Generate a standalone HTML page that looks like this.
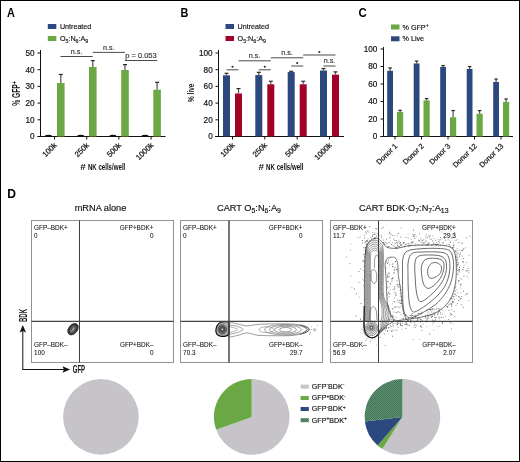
<!DOCTYPE html>
<html><head><meta charset="utf-8"><title>Figure</title>
<style>
html,body{margin:0;padding:0;background:#fff;width:520px;height:462px;overflow:hidden;}
svg{display:block;will-change:transform;}
text{font-family:"Liberation Sans",sans-serif;}
</style></head><body>
<svg width="520" height="462" viewBox="0 0 520 462">
<rect x="0.5" y="0.5" width="519" height="461" fill="#fff" stroke="#000" stroke-width="1"/>
<text x="0" y="0" transform="translate(7.0 16.8) scale(0.9 1)" font-size="12.1" text-anchor="start" font-weight="bold" fill="#000" >A</text>
<text x="0" y="0" transform="translate(180.5 16.6) scale(0.9 1)" font-size="12.1" text-anchor="start" font-weight="bold" fill="#000" >B</text>
<text x="0" y="0" transform="translate(358.6 16.6) scale(0.95 1)" font-size="12.1" text-anchor="start" font-weight="bold" fill="#000" >C</text>
<text x="7.2" y="197.6" font-size="12.1" text-anchor="start" font-weight="bold" fill="#000" >D</text>
<rect x="47.8" y="24" width="8.5" height="5" fill="#2b487f"/>
<text x="0" y="0" transform="translate(59.9 29) scale(0.93 1)" font-size="7.7" text-anchor="start" font-weight="normal" fill="#111"  stroke="#111" stroke-width="0.15">Untreated</text>
<rect x="47.8" y="36" width="8.5" height="5" fill="#6aa843"/>
<text x="0" y="0" transform="translate(59.9 41) scale(0.93 1)" font-size="7.7" text-anchor="start" font-weight="normal" fill="#111"  stroke="#111" stroke-width="0.15">O<tspan font-size="5.70" dy="1.7">5</tspan><tspan dy="-1.7">:N</tspan><tspan font-size="5.70" dy="1.7">6</tspan><tspan dy="-1.7">:A</tspan><tspan font-size="5.70" dy="1.7">9</tspan></text>
<line x1="40.5" y1="50" x2="40.5" y2="137.0" stroke="#111" stroke-width="1"/>
<line x1="37.5" y1="136.5" x2="40.5" y2="136.5" stroke="#111" stroke-width="1"/>
<text x="34.5" y="139.4" font-size="8.2" text-anchor="end" font-weight="normal" fill="#111" stroke="#111" stroke-width="0.18">0</text>
<line x1="37.5" y1="119.8" x2="40.5" y2="119.8" stroke="#111" stroke-width="1"/>
<text x="34.5" y="122.7" font-size="8.2" text-anchor="end" font-weight="normal" fill="#111" stroke="#111" stroke-width="0.18">10</text>
<line x1="37.5" y1="103.1" x2="40.5" y2="103.1" stroke="#111" stroke-width="1"/>
<text x="34.5" y="106.0" font-size="8.2" text-anchor="end" font-weight="normal" fill="#111" stroke="#111" stroke-width="0.18">20</text>
<line x1="37.5" y1="86.4" x2="40.5" y2="86.4" stroke="#111" stroke-width="1"/>
<text x="34.5" y="89.30000000000001" font-size="8.2" text-anchor="end" font-weight="normal" fill="#111" stroke="#111" stroke-width="0.18">30</text>
<line x1="37.5" y1="69.7" x2="40.5" y2="69.7" stroke="#111" stroke-width="1"/>
<text x="34.5" y="72.60000000000001" font-size="8.2" text-anchor="end" font-weight="normal" fill="#111" stroke="#111" stroke-width="0.18">40</text>
<line x1="37.5" y1="53.0" x2="40.5" y2="53.0" stroke="#111" stroke-width="1"/>
<text x="34.5" y="55.9" font-size="8.2" text-anchor="end" font-weight="normal" fill="#111" stroke="#111" stroke-width="0.18">50</text>
<line x1="37.5" y1="136.5" x2="165.5" y2="136.5" stroke="#111" stroke-width="1"/>
<line x1="54.5" y1="136.5" x2="54.5" y2="139.5" stroke="#111" stroke-width="1"/>
<line x1="86.7" y1="136.5" x2="86.7" y2="139.5" stroke="#111" stroke-width="1"/>
<line x1="118.9" y1="136.5" x2="118.9" y2="139.5" stroke="#111" stroke-width="1"/>
<line x1="151.1" y1="136.5" x2="151.1" y2="139.5" stroke="#111" stroke-width="1"/>
<ellipse cx="48.50" cy="135.90" rx="3.3" ry="1.1" fill="#111"/>
<rect x="57.0" y="83.06" width="7.6" height="53.44" fill="#6aa843"/>
<line x1="60.8" y1="74.376" x2="60.8" y2="83.06" stroke="#555" stroke-width="1.25"/>
<line x1="58.8" y1="74.476" x2="62.8" y2="74.476" stroke="#2a2a2a" stroke-width="1.2"/>
<ellipse cx="80.70" cy="135.90" rx="3.3" ry="1.1" fill="#111"/>
<rect x="89.0" y="67.028" width="7.6" height="69.472" fill="#6aa843"/>
<line x1="92.8" y1="60.515" x2="92.8" y2="67.028" stroke="#555" stroke-width="1.25"/>
<line x1="90.8" y1="60.615" x2="94.8" y2="60.615" stroke="#2a2a2a" stroke-width="1.2"/>
<ellipse cx="112.90" cy="135.90" rx="3.3" ry="1.1" fill="#111"/>
<rect x="121.2" y="70.034" width="7.6" height="66.466" fill="#6aa843"/>
<line x1="125.0" y1="64.523" x2="125.0" y2="70.034" stroke="#555" stroke-width="1.25"/>
<line x1="123.0" y1="64.62299999999999" x2="127.0" y2="64.62299999999999" stroke="#2a2a2a" stroke-width="1.2"/>
<ellipse cx="145.10" cy="135.90" rx="3.3" ry="1.1" fill="#111"/>
<rect x="153.3" y="89.74000000000001" width="7.6" height="46.76" fill="#6aa843"/>
<line x1="157.10000000000002" y1="82.225" x2="157.10000000000002" y2="89.74000000000001" stroke="#555" stroke-width="1.25"/>
<line x1="155.10000000000002" y1="82.32499999999999" x2="159.10000000000002" y2="82.32499999999999" stroke="#2a2a2a" stroke-width="1.2"/>
<line x1="60.5" y1="56.5" x2="92.7" y2="56.5" stroke="#4a4a4a" stroke-width="1"/>
<text x="76.6" y="53.6" font-size="7.2" text-anchor="middle" font-weight="normal" fill="#333"  stroke="#333" stroke-width="0.15">n.s.</text>
<line x1="92.7" y1="52.4" x2="125" y2="52.4" stroke="#4a4a4a" stroke-width="1"/>
<text x="108.9" y="49.5" font-size="7.2" text-anchor="middle" font-weight="normal" fill="#333"  stroke="#333" stroke-width="0.15">n.s.</text>
<line x1="125" y1="60.5" x2="157.3" y2="60.5" stroke="#4a4a4a" stroke-width="1"/>
<text x="125.2" y="57.6" font-size="7.5" text-anchor="start" font-weight="normal" fill="#333"  stroke="#333" stroke-width="0.15">p = 0.053</text>
<text x="57.3" y="145.8" font-size="7.7" text-anchor="end" fill="#111" stroke="#111" stroke-width="0.22" transform="rotate(-45 57.3 145.8)">100k</text>
<text x="89.5" y="145.8" font-size="7.7" text-anchor="end" fill="#111" stroke="#111" stroke-width="0.22" transform="rotate(-45 89.5 145.8)">250k</text>
<text x="121.7" y="145.8" font-size="7.7" text-anchor="end" fill="#111" stroke="#111" stroke-width="0.22" transform="rotate(-45 121.7 145.8)">500k</text>
<text x="153.9" y="145.8" font-size="7.7" text-anchor="end" fill="#111" stroke="#111" stroke-width="0.22" transform="rotate(-45 153.9 145.8)">1000k</text>
<text x="0" y="0" font-size="9" font-weight="bold" fill="#111" transform="translate(80.2,170.3) scale(1.1,1)">#</text>
<text x="0" y="0" font-size="9" font-weight="bold" fill="#111" transform="translate(87.9,170.3) scale(0.68,1)">NK cells/well</text>
<text x="0" y="0" font-size="10" font-weight="bold" fill="#111" transform="translate(20.3,93.4) rotate(-90) scale(0.67,1)" text-anchor="middle">% GFP<tspan font-size="8" dy="-3.2">+</tspan></text>
<rect x="225.5" y="24" width="8.5" height="5" fill="#2b487f"/>
<text x="0" y="0" transform="translate(237.6 29) scale(0.93 1)" font-size="7.7" text-anchor="start" font-weight="normal" fill="#111"  stroke="#111" stroke-width="0.15">Untreated</text>
<rect x="225.5" y="36" width="8.5" height="5" fill="#a30228"/>
<text x="0" y="0" transform="translate(237.6 41) scale(0.93 1)" font-size="7.7" text-anchor="start" font-weight="normal" fill="#111"  stroke="#111" stroke-width="0.15">O<tspan font-size="5.70" dy="1.7">5</tspan><tspan dy="-1.7">:N</tspan><tspan font-size="5.70" dy="1.7">6</tspan><tspan dy="-1.7">:A</tspan><tspan font-size="5.70" dy="1.7">9</tspan></text>
<line x1="218.5" y1="50" x2="218.5" y2="137.0" stroke="#111" stroke-width="1"/>
<line x1="215.5" y1="136.5" x2="218.5" y2="136.5" stroke="#111" stroke-width="1"/>
<text x="212.7" y="139.4" font-size="8.2" text-anchor="end" font-weight="normal" fill="#111" stroke="#111" stroke-width="0.18">0</text>
<line x1="215.5" y1="119.8" x2="218.5" y2="119.8" stroke="#111" stroke-width="1"/>
<text x="212.7" y="122.7" font-size="8.2" text-anchor="end" font-weight="normal" fill="#111" stroke="#111" stroke-width="0.18">20</text>
<line x1="215.5" y1="103.1" x2="218.5" y2="103.1" stroke="#111" stroke-width="1"/>
<text x="212.7" y="106.0" font-size="8.2" text-anchor="end" font-weight="normal" fill="#111" stroke="#111" stroke-width="0.18">40</text>
<line x1="215.5" y1="86.4" x2="218.5" y2="86.4" stroke="#111" stroke-width="1"/>
<text x="212.7" y="89.30000000000001" font-size="8.2" text-anchor="end" font-weight="normal" fill="#111" stroke="#111" stroke-width="0.18">60</text>
<line x1="215.5" y1="69.7" x2="218.5" y2="69.7" stroke="#111" stroke-width="1"/>
<text x="212.7" y="72.60000000000001" font-size="8.2" text-anchor="end" font-weight="normal" fill="#111" stroke="#111" stroke-width="0.18">80</text>
<line x1="215.5" y1="53.0" x2="218.5" y2="53.0" stroke="#111" stroke-width="1"/>
<text x="212.7" y="55.9" font-size="8.2" text-anchor="end" font-weight="normal" fill="#111" stroke="#111" stroke-width="0.18">100</text>
<line x1="215" y1="136.5" x2="344" y2="136.5" stroke="#111" stroke-width="1"/>
<line x1="232.5" y1="136.5" x2="232.5" y2="139.5" stroke="#111" stroke-width="1"/>
<line x1="264.8" y1="136.5" x2="264.8" y2="139.5" stroke="#111" stroke-width="1"/>
<line x1="297.2" y1="136.5" x2="297.2" y2="139.5" stroke="#111" stroke-width="1"/>
<line x1="329.5" y1="136.5" x2="329.5" y2="139.5" stroke="#111" stroke-width="1"/>
<rect x="223.0" y="75.2945" width="7" height="61.205499999999994" fill="#2b487f"/>
<line x1="226.5" y1="73.20700000000001" x2="226.5" y2="75.2945" stroke="#555" stroke-width="1.25"/>
<line x1="224.5" y1="73.307" x2="228.5" y2="73.307" stroke="#2a2a2a" stroke-width="1.2"/>
<rect x="235.0" y="93.4975" width="7" height="43.0025" fill="#a30228"/>
<line x1="238.5" y1="88.48750000000001" x2="238.5" y2="93.4975" stroke="#555" stroke-width="1.25"/>
<line x1="236.5" y1="88.5875" x2="240.5" y2="88.5875" stroke="#2a2a2a" stroke-width="1.2"/>
<rect x="255.3" y="75.1275" width="7" height="61.372499999999995" fill="#2b487f"/>
<line x1="258.8" y1="72.205" x2="258.8" y2="75.1275" stroke="#555" stroke-width="1.25"/>
<line x1="256.8" y1="72.30499999999999" x2="260.8" y2="72.30499999999999" stroke="#2a2a2a" stroke-width="1.2"/>
<rect x="267.3" y="84.3125" width="7" height="52.1875" fill="#a30228"/>
<line x1="270.8" y1="81.1395" x2="270.8" y2="84.3125" stroke="#555" stroke-width="1.25"/>
<line x1="268.8" y1="81.23949999999999" x2="272.8" y2="81.23949999999999" stroke="#2a2a2a" stroke-width="1.2"/>
<rect x="287.7" y="72.038" width="7" height="64.462" fill="#2b487f"/>
<line x1="291.2" y1="71.203" x2="291.2" y2="72.038" stroke="#555" stroke-width="1.25"/>
<line x1="289.2" y1="71.303" x2="293.2" y2="71.303" stroke="#2a2a2a" stroke-width="1.2"/>
<rect x="299.7" y="84.3125" width="7" height="52.1875" fill="#a30228"/>
<line x1="303.2" y1="81.1395" x2="303.2" y2="84.3125" stroke="#555" stroke-width="1.25"/>
<line x1="301.2" y1="81.23949999999999" x2="305.2" y2="81.23949999999999" stroke="#2a2a2a" stroke-width="1.2"/>
<rect x="320.0" y="70.535" width="7" height="65.965" fill="#2b487f"/>
<line x1="323.5" y1="68.4475" x2="323.5" y2="70.535" stroke="#555" stroke-width="1.25"/>
<line x1="321.5" y1="68.5475" x2="325.5" y2="68.5475" stroke="#2a2a2a" stroke-width="1.2"/>
<rect x="332.0" y="74.71000000000001" width="7" height="61.79" fill="#a30228"/>
<line x1="335.5" y1="71.78750000000001" x2="335.5" y2="74.71000000000001" stroke="#555" stroke-width="1.25"/>
<line x1="333.5" y1="71.8875" x2="337.5" y2="71.8875" stroke="#2a2a2a" stroke-width="1.2"/>
<line x1="226.5" y1="69.8" x2="238.5" y2="69.8" stroke="#4a4a4a" stroke-width="1"/>
<circle cx="232.50" cy="66.80" r="1.05" fill="#2a2a2a"/>
<line x1="238.5" y1="60.8" x2="270.8" y2="60.8" stroke="#4a4a4a" stroke-width="1"/>
<text x="254.65" y="58.199999999999996" font-size="7.2" text-anchor="middle" font-weight="normal" fill="#333"  stroke="#333" stroke-width="0.15">n.s.</text>
<line x1="258.8" y1="69.8" x2="270.8" y2="69.8" stroke="#4a4a4a" stroke-width="1"/>
<circle cx="264.80" cy="66.80" r="1.05" fill="#2a2a2a"/>
<line x1="270.8" y1="57.8" x2="303.2" y2="57.8" stroke="#4a4a4a" stroke-width="1"/>
<text x="287.0" y="55.199999999999996" font-size="7.2" text-anchor="middle" font-weight="normal" fill="#333"  stroke="#333" stroke-width="0.15">n.s.</text>
<line x1="291.2" y1="66.0" x2="303.2" y2="66.0" stroke="#4a4a4a" stroke-width="1"/>
<circle cx="297.20" cy="63.00" r="1.05" fill="#2a2a2a"/>
<line x1="303.2" y1="55.0" x2="335.5" y2="55.0" stroke="#4a4a4a" stroke-width="1"/>
<circle cx="319.35" cy="52.00" r="1.05" fill="#2a2a2a"/>
<line x1="323.5" y1="66.0" x2="335.5" y2="66.0" stroke="#4a4a4a" stroke-width="1"/>
<text x="329.5" y="63.4" font-size="7.2" text-anchor="middle" font-weight="normal" fill="#333"  stroke="#333" stroke-width="0.15">n.s.</text>
<text x="235.3" y="145.8" font-size="7.7" text-anchor="end" fill="#111" stroke="#111" stroke-width="0.22" transform="rotate(-45 235.3 145.8)">100k</text>
<text x="267.6" y="145.8" font-size="7.7" text-anchor="end" fill="#111" stroke="#111" stroke-width="0.22" transform="rotate(-45 267.6 145.8)">250k</text>
<text x="300.0" y="145.8" font-size="7.7" text-anchor="end" fill="#111" stroke="#111" stroke-width="0.22" transform="rotate(-45 300.0 145.8)">500k</text>
<text x="332.3" y="145.8" font-size="7.7" text-anchor="end" fill="#111" stroke="#111" stroke-width="0.22" transform="rotate(-45 332.3 145.8)">1000k</text>
<text x="0" y="0" font-size="9" font-weight="bold" fill="#111" transform="translate(258.4,170.3) scale(1.1,1)">#</text>
<text x="0" y="0" font-size="9" font-weight="bold" fill="#111" transform="translate(266.1,170.3) scale(0.68,1)">NK cells/well</text>
<text x="0" y="0" font-size="9.6" font-weight="bold" fill="#111" transform="translate(193.8,92.8) rotate(-90) scale(0.68,1)" text-anchor="middle">% live</text>
<rect x="391" y="24.5" width="8.5" height="5" fill="#6aa843"/>
<text x="402.5" y="29.5" font-size="7.2" text-anchor="start" font-weight="normal" fill="#111"  stroke="#111" stroke-width="0.15">% GFP<tspan font-size="5" dy="-2.8">+</tspan></text>
<rect x="391" y="36.3" width="8.5" height="5" fill="#2b487f"/>
<text x="402.5" y="41.3" font-size="7.2" text-anchor="start" font-weight="normal" fill="#111"  stroke="#111" stroke-width="0.15">% Live</text>
<line x1="383.5" y1="47" x2="383.5" y2="137.0" stroke="#111" stroke-width="1"/>
<line x1="380.5" y1="136.5" x2="383.5" y2="136.5" stroke="#111" stroke-width="1"/>
<text x="377.3" y="139.4" font-size="8.2" text-anchor="end" font-weight="normal" fill="#111" stroke="#111" stroke-width="0.18">0</text>
<line x1="380.5" y1="119.0" x2="383.5" y2="119.0" stroke="#111" stroke-width="1"/>
<text x="377.3" y="121.9" font-size="8.2" text-anchor="end" font-weight="normal" fill="#111" stroke="#111" stroke-width="0.18">20</text>
<line x1="380.5" y1="101.5" x2="383.5" y2="101.5" stroke="#111" stroke-width="1"/>
<text x="377.3" y="104.4" font-size="8.2" text-anchor="end" font-weight="normal" fill="#111" stroke="#111" stroke-width="0.18">40</text>
<line x1="380.5" y1="84.0" x2="383.5" y2="84.0" stroke="#111" stroke-width="1"/>
<text x="377.3" y="86.9" font-size="8.2" text-anchor="end" font-weight="normal" fill="#111" stroke="#111" stroke-width="0.18">60</text>
<line x1="380.5" y1="66.5" x2="383.5" y2="66.5" stroke="#111" stroke-width="1"/>
<text x="377.3" y="69.4" font-size="8.2" text-anchor="end" font-weight="normal" fill="#111" stroke="#111" stroke-width="0.18">80</text>
<line x1="380.5" y1="49.0" x2="383.5" y2="49.0" stroke="#111" stroke-width="1"/>
<text x="377.3" y="51.9" font-size="8.2" text-anchor="end" font-weight="normal" fill="#111" stroke="#111" stroke-width="0.18">100</text>
<line x1="380.5" y1="136.5" x2="513" y2="136.5" stroke="#111" stroke-width="1"/>
<line x1="395" y1="136.5" x2="395" y2="139.5" stroke="#111" stroke-width="1"/>
<line x1="421.5" y1="136.5" x2="421.5" y2="139.5" stroke="#111" stroke-width="1"/>
<line x1="448" y1="136.5" x2="448" y2="139.5" stroke="#111" stroke-width="1"/>
<line x1="474.5" y1="136.5" x2="474.5" y2="139.5" stroke="#111" stroke-width="1"/>
<line x1="501" y1="136.5" x2="501" y2="139.5" stroke="#111" stroke-width="1"/>
<rect x="387.2" y="70.875" width="5.8" height="65.625" fill="#2b487f"/>
<line x1="390.1" y1="67.8125" x2="390.1" y2="70.875" stroke="#555" stroke-width="1.25"/>
<line x1="388.35" y1="67.9125" x2="391.85" y2="67.9125" stroke="#2a2a2a" stroke-width="1.2"/>
<rect x="397" y="112.0" width="6.2" height="24.5" fill="#6aa843"/>
<line x1="400.1" y1="110.25" x2="400.1" y2="112.0" stroke="#555" stroke-width="1.25"/>
<line x1="398.35" y1="110.35" x2="401.85" y2="110.35" stroke="#2a2a2a" stroke-width="1.2"/>
<rect x="413.7" y="63.4375" width="5.8" height="73.0625" fill="#2b487f"/>
<line x1="416.6" y1="60.9875" x2="416.6" y2="63.4375" stroke="#555" stroke-width="1.25"/>
<line x1="414.85" y1="61.0875" x2="418.35" y2="61.0875" stroke="#2a2a2a" stroke-width="1.2"/>
<rect x="423.5" y="100.44999999999999" width="6.2" height="36.050000000000004" fill="#6aa843"/>
<line x1="426.6" y1="98.4375" x2="426.6" y2="100.44999999999999" stroke="#555" stroke-width="1.25"/>
<line x1="424.85" y1="98.5375" x2="428.35" y2="98.5375" stroke="#2a2a2a" stroke-width="1.2"/>
<rect x="440.2" y="66.9375" width="5.8" height="69.5625" fill="#2b487f"/>
<line x1="443.1" y1="65.45" x2="443.1" y2="66.9375" stroke="#555" stroke-width="1.25"/>
<line x1="441.35" y1="65.55" x2="444.85" y2="65.55" stroke="#2a2a2a" stroke-width="1.2"/>
<rect x="450" y="117.25" width="6.2" height="19.25" fill="#6aa843"/>
<line x1="453.1" y1="110.425" x2="453.1" y2="117.25" stroke="#555" stroke-width="1.25"/>
<line x1="451.35" y1="110.52499999999999" x2="454.85" y2="110.52499999999999" stroke="#2a2a2a" stroke-width="1.2"/>
<rect x="466.7" y="68.95" width="5.8" height="67.55" fill="#2b487f"/>
<line x1="469.6" y1="66.5" x2="469.6" y2="68.95" stroke="#555" stroke-width="1.25"/>
<line x1="467.85" y1="66.6" x2="471.35" y2="66.6" stroke="#2a2a2a" stroke-width="1.2"/>
<rect x="476.5" y="113.75" width="6.2" height="22.75" fill="#6aa843"/>
<line x1="479.6" y1="110.5125" x2="479.6" y2="113.75" stroke="#555" stroke-width="1.25"/>
<line x1="477.85" y1="110.6125" x2="481.35" y2="110.6125" stroke="#2a2a2a" stroke-width="1.2"/>
<rect x="493.2" y="81.98750000000001" width="5.8" height="54.512499999999996" fill="#2b487f"/>
<line x1="496.1" y1="78.92500000000001" x2="496.1" y2="81.98750000000001" stroke="#555" stroke-width="1.25"/>
<line x1="494.35" y1="79.025" x2="497.85" y2="79.025" stroke="#2a2a2a" stroke-width="1.2"/>
<rect x="503" y="101.9375" width="6.2" height="34.5625" fill="#6aa843"/>
<line x1="506.1" y1="98.875" x2="506.1" y2="101.9375" stroke="#555" stroke-width="1.25"/>
<line x1="504.35" y1="98.975" x2="507.85" y2="98.975" stroke="#2a2a2a" stroke-width="1.2"/>
<text x="397.8" y="146.5" font-size="7.4" text-anchor="end" fill="#111" stroke="#111" stroke-width="0.22" transform="rotate(-45 397.8 146.5)">Donor 1</text>
<text x="424.3" y="146.5" font-size="7.4" text-anchor="end" fill="#111" stroke="#111" stroke-width="0.22" transform="rotate(-45 424.3 146.5)">Donor 2</text>
<text x="450.8" y="146.5" font-size="7.4" text-anchor="end" fill="#111" stroke="#111" stroke-width="0.22" transform="rotate(-45 450.8 146.5)">Donor 3</text>
<text x="477.3" y="146.5" font-size="7.4" text-anchor="end" fill="#111" stroke="#111" stroke-width="0.22" transform="rotate(-45 477.3 146.5)">Donor 12</text>
<text x="503.8" y="146.5" font-size="7.4" text-anchor="end" fill="#111" stroke="#111" stroke-width="0.22" transform="rotate(-45 503.8 146.5)">Donor 13</text>
<rect x="31.5" y="220.5" width="142" height="142.0" fill="none" stroke="#929292" stroke-width="1"/>
<rect x="180.5" y="220.5" width="142" height="142.0" fill="none" stroke="#929292" stroke-width="1"/>
<rect x="330.5" y="220.5" width="142" height="142.0" fill="none" stroke="#929292" stroke-width="1"/>
<text x="100.5" y="211.2" font-size="9.2" text-anchor="middle" font-weight="normal" fill="#111"  stroke="#111" stroke-width="0.15">mRNA alone</text>
<text x="249.0" y="211.2" font-size="9.2" text-anchor="middle" font-weight="normal" fill="#111"  stroke="#111" stroke-width="0.15">CART O<tspan font-size="6.9" dy="2.0">5</tspan><tspan dy="-2.0">:N</tspan><tspan font-size="6.9" dy="2.0">6</tspan><tspan dy="-2.0">:A</tspan><tspan font-size="6.9" dy="2.0">9</tspan></text>
<text x="403.7" y="211.2" font-size="9.2" text-anchor="middle" font-weight="normal" fill="#111"  stroke="#111" stroke-width="0.15">CART BDK·O<tspan font-size="6.9" dy="2.0">7</tspan><tspan dy="-2.0">:N</tspan><tspan font-size="6.9" dy="2.0">7</tspan><tspan dy="-2.0">:A</tspan><tspan font-size="6.9" dy="2.0">13</tspan></text>
<text x="34.1" y="230" font-size="6.4" text-anchor="start" font-weight="normal" fill="#111"  stroke="#111" stroke-width="0.06">GFP–BDK+</text>
<text x="34.1" y="237.6" font-size="6.4" text-anchor="start" font-weight="normal" fill="#111"  stroke="#111" stroke-width="0.06">0</text>
<text x="153.5" y="230" font-size="6.4" text-anchor="end" font-weight="normal" fill="#111"  stroke="#111" stroke-width="0.06">GFP+BDK+</text>
<text x="153.5" y="237.6" font-size="6.4" text-anchor="end" font-weight="normal" fill="#111"  stroke="#111" stroke-width="0.06">0</text>
<text x="34.1" y="347.3" font-size="6.4" text-anchor="start" font-weight="normal" fill="#111"  stroke="#111" stroke-width="0.06">GFP–BDK–</text>
<text x="34.1" y="355.2" font-size="6.4" text-anchor="start" font-weight="normal" fill="#111"  stroke="#111" stroke-width="0.06">100</text>
<text x="153.5" y="347.3" font-size="6.4" text-anchor="end" font-weight="normal" fill="#111"  stroke="#111" stroke-width="0.06">GFP+BDK–</text>
<text x="153.5" y="355.2" font-size="6.4" text-anchor="end" font-weight="normal" fill="#111"  stroke="#111" stroke-width="0.06">0</text>
<text x="183.1" y="230" font-size="6.4" text-anchor="start" font-weight="normal" fill="#111"  stroke="#111" stroke-width="0.06">GFP–BDK+</text>
<text x="183.1" y="237.6" font-size="6.4" text-anchor="start" font-weight="normal" fill="#111"  stroke="#111" stroke-width="0.06">0</text>
<text x="302.5" y="230" font-size="6.4" text-anchor="end" font-weight="normal" fill="#111"  stroke="#111" stroke-width="0.06">GFP+BDK+</text>
<text x="302.5" y="237.6" font-size="6.4" text-anchor="end" font-weight="normal" fill="#111"  stroke="#111" stroke-width="0.06">0</text>
<text x="183.1" y="347.3" font-size="6.4" text-anchor="start" font-weight="normal" fill="#111"  stroke="#111" stroke-width="0.06">GFP–BDK–</text>
<text x="183.1" y="355.2" font-size="6.4" text-anchor="start" font-weight="normal" fill="#111"  stroke="#111" stroke-width="0.06">70.3</text>
<text x="302.5" y="347.3" font-size="6.4" text-anchor="end" font-weight="normal" fill="#111"  stroke="#111" stroke-width="0.06">GFP+BDK–</text>
<text x="302.5" y="355.2" font-size="6.4" text-anchor="end" font-weight="normal" fill="#111"  stroke="#111" stroke-width="0.06">29.7</text>
<text x="333.1" y="230" font-size="6.4" text-anchor="start" font-weight="normal" fill="#111"  stroke="#111" stroke-width="0.06">GFP–BDK+</text>
<text x="333.1" y="237.6" font-size="6.4" text-anchor="start" font-weight="normal" fill="#111"  stroke="#111" stroke-width="0.06">11.7</text>
<text x="455.8" y="230" font-size="6.4" text-anchor="end" font-weight="normal" fill="#111"  stroke="#111" stroke-width="0.06">GFP+BDK+</text>
<text x="455.8" y="237.6" font-size="6.4" text-anchor="end" font-weight="normal" fill="#111"  stroke="#111" stroke-width="0.06">29.3</text>
<text x="333.1" y="347.3" font-size="6.4" text-anchor="start" font-weight="normal" fill="#111"  stroke="#111" stroke-width="0.06">GFP–BDK–</text>
<text x="333.1" y="355.2" font-size="6.4" text-anchor="start" font-weight="normal" fill="#111"  stroke="#111" stroke-width="0.06">56.9</text>
<text x="455.8" y="347.3" font-size="6.4" text-anchor="end" font-weight="normal" fill="#111"  stroke="#111" stroke-width="0.06">GFP+BDK–</text>
<text x="455.8" y="355.2" font-size="6.4" text-anchor="end" font-weight="normal" fill="#111"  stroke="#111" stroke-width="0.06">2.07</text>
<ellipse cx="73.0" cy="329.2" rx="4.3" ry="6.3" transform="rotate(38 73.0 329.2)" fill="#4a4a4a" stroke="#1a1a1a" stroke-width="0.9"/>
<ellipse cx="73.2" cy="329.1" rx="3.0" ry="4.6" transform="rotate(38 73.2 329.1)" fill="#6a6a6a" stroke="#222" stroke-width="0.6"/>
<ellipse cx="73.4" cy="329.0" rx="1.6" ry="2.7" transform="rotate(38 73.4 329.0)" fill="#999" stroke="#2a2a2a" stroke-width="0.6"/>
<ellipse cx="71.6" cy="331.2" rx="0.9" ry="1.2" transform="rotate(38 71.6 331.2)" fill="#888" stroke="none" stroke-width="0"/>
<path d="M75.3 324.6 L78.2 325.2 L77.0 326.4 Z" fill="#222"/>
<path d="M229.00 323.50 C230.50 321.52 235.00 323.70 238.00 324.10 C241.00 324.50 243.67 325.85 247.00 325.90 C250.33 325.95 253.33 324.73 258.00 324.40 C262.67 324.07 269.33 323.95 275.00 323.90 C280.67 323.85 287.17 323.80 292.00 324.10 C296.83 324.40 301.08 324.83 304.00 325.70 C306.92 326.57 309.50 328.07 309.50 329.30 C309.50 330.53 306.92 332.07 304.00 333.10 C301.08 334.13 296.83 335.07 292.00 335.50 C287.17 335.93 280.67 335.73 275.00 335.70 C269.33 335.67 262.67 335.77 258.00 335.30 C253.33 334.83 250.33 332.90 247.00 332.90 C243.67 332.90 241.00 334.78 238.00 335.30 C235.00 335.82 230.50 337.97 229.00 336.00 C227.50 334.03 227.50 325.48 229.00 323.50 Z" fill="none" stroke="#7a7a7a" stroke-width="0.75"/>
<path d="M230.00 325.10 C231.17 325.30 234.83 325.58 237.00 326.30 C239.17 327.02 243.00 328.35 243.00 329.40 C243.00 330.45 239.17 331.78 237.00 332.60 C234.83 333.42 231.17 334.02 230.00 334.30" fill="none" stroke="#7a7a7a" stroke-width="0.7"/>
<path d="M230.00 326.70 C230.75 326.90 233.25 327.43 234.50 327.90 C235.75 328.37 237.50 328.93 237.50 329.50 C237.50 330.07 235.75 330.80 234.50 331.30 C233.25 331.80 230.75 332.30 230.00 332.50" fill="none" stroke="#8a8a8a" stroke-width="0.65"/>
<ellipse cx="285.5" cy="329.7" rx="21" ry="5.3" transform="rotate(0 285.5 329.7)" fill="none" stroke="#7a7a7a" stroke-width="0.7"/>
<ellipse cx="285.5" cy="329.7" rx="16" ry="4.4" transform="rotate(0 285.5 329.7)" fill="none" stroke="#7a7a7a" stroke-width="0.7"/>
<ellipse cx="285.5" cy="329.7" rx="11" ry="3.4" transform="rotate(0 285.5 329.7)" fill="none" stroke="#707070" stroke-width="0.7"/>
<ellipse cx="285.5" cy="329.7" rx="6" ry="2.2" transform="rotate(0 285.5 329.7)" fill="none" stroke="#6a6a6a" stroke-width="0.7"/>
<ellipse cx="266.5" cy="329.7" rx="7.5" ry="3.0" transform="rotate(0 266.5 329.7)" fill="none" stroke="#888" stroke-width="0.65"/>
<path d="M300.00 325.00 C301.00 325.33 304.50 326.25 306.00 327.00 C307.50 327.75 309.00 328.62 309.00 329.50 C309.00 330.38 307.50 331.50 306.00 332.30 C304.50 333.10 301.00 333.97 300.00 334.30" fill="none" stroke="#444" stroke-width="0.8"/>
<path d="M303.00 326.30 C303.75 326.83 307.50 328.40 307.50 329.50 C307.50 330.60 303.75 332.33 303.00 332.90" fill="none" stroke="#555" stroke-width="0.6"/>
<rect x="313.5" y="329.6" width="0.9" height="0.9" fill="#555" opacity="0.91"/>
<rect x="313.7" y="329.1" width="0.9" height="0.9" fill="#555" opacity="0.74"/>
<rect x="310.8" y="329.1" width="0.9" height="0.9" fill="#555" opacity="0.76"/>
<rect x="316.9" y="324.9" width="0.9" height="0.9" fill="#555" opacity="0.60"/>
<rect x="309.9" y="332.1" width="0.9" height="0.9" fill="#555" opacity="0.80"/>
<rect x="309.4" y="333.8" width="0.9" height="0.9" fill="#555" opacity="0.93"/>
<rect x="315.5" y="330.2" width="0.9" height="0.9" fill="#555" opacity="0.53"/>
<rect x="309.2" y="329.3" width="0.9" height="0.9" fill="#555" opacity="0.48"/>
<rect x="310.9" y="326.4" width="0.9" height="0.9" fill="#555" opacity="0.47"/>
<rect x="313.6" y="328.4" width="0.9" height="0.9" fill="#555" opacity="0.87"/>
<rect x="314.2" y="330.4" width="0.9" height="0.9" fill="#555" opacity="0.70"/>
<rect x="315.6" y="328.6" width="0.9" height="0.9" fill="#555" opacity="0.59"/>
<path d="M215.90 330.00 C215.98 328.63 216.42 326.90 217.20 325.60 C217.98 324.30 219.22 322.85 220.60 322.20 C221.98 321.55 224.12 321.63 225.50 321.70 C226.88 321.77 228.32 321.38 228.90 322.60 C229.48 323.82 229.03 327.03 229.00 329.00 C228.97 330.97 229.45 333.17 228.70 334.40 C227.95 335.63 226.03 336.17 224.50 336.40 C222.97 336.63 220.80 336.23 219.50 335.80 C218.20 335.37 217.30 334.77 216.70 333.80 C216.10 332.83 215.82 331.37 215.90 330.00 Z" fill="#bdbdbd" stroke="#111" stroke-width="1.25"/>
<path d="M217.80 330.00 C217.70 328.70 218.30 327.03 219.00 326.00 C219.70 324.97 220.87 324.20 222.00 323.80 C223.13 323.40 224.83 323.27 225.80 323.60 C226.77 323.93 227.45 324.65 227.80 325.80 C228.15 326.95 228.07 329.13 227.90 330.50 C227.73 331.87 227.62 333.27 226.80 334.00 C225.98 334.73 224.20 334.93 223.00 334.90 C221.80 334.87 220.47 334.62 219.60 333.80 C218.73 332.98 217.90 331.30 217.80 330.00 Z" fill="none" stroke="#777" stroke-width="0.6"/>
<ellipse cx="222.4" cy="329.4" rx="4.3" ry="4.6" transform="rotate(0 222.4 329.4)" fill="#7a7a7a" stroke="#444" stroke-width="0.7"/>
<ellipse cx="222.3" cy="329.4" rx="2.8" ry="3.0" transform="rotate(0 222.3 329.4)" fill="#5a5a5a" stroke="#333" stroke-width="0.6"/>
<ellipse cx="222.3" cy="329.4" rx="1.4" ry="1.5" transform="rotate(0 222.3 329.4)" fill="#888" stroke="#444" stroke-width="0.5"/>
<ellipse cx="222.3" cy="329.4" rx="0.6" ry="0.6" transform="rotate(0 222.3 329.4)" fill="#e0e0e0" stroke="none" stroke-width="0"/>
<rect x="363.2" y="260.4" width="0.9" height="0.9" fill="#444" opacity="0.83"/>
<rect x="387.1" y="330.7" width="0.9" height="0.9" fill="#444" opacity="0.93"/>
<rect x="437.1" y="238.9" width="0.9" height="0.9" fill="#444" opacity="0.50"/>
<rect x="454.9" y="250.5" width="0.9" height="0.9" fill="#444" opacity="0.88"/>
<rect x="452.3" y="247.0" width="0.9" height="0.9" fill="#444" opacity="0.90"/>
<rect x="364.4" y="312.8" width="0.9" height="0.9" fill="#444" opacity="0.86"/>
<rect x="459.4" y="249.7" width="0.9" height="0.9" fill="#444" opacity="0.58"/>
<rect x="412.8" y="241.7" width="0.9" height="0.9" fill="#444" opacity="0.46"/>
<rect x="392.7" y="329.6" width="0.9" height="0.9" fill="#444" opacity="0.83"/>
<rect x="397.5" y="246.5" width="0.9" height="0.9" fill="#444" opacity="0.69"/>
<rect x="417.0" y="319.3" width="0.9" height="0.9" fill="#444" opacity="0.85"/>
<rect x="432.1" y="240.4" width="0.9" height="0.9" fill="#444" opacity="0.76"/>
<rect x="458.4" y="271.5" width="0.9" height="0.9" fill="#444" opacity="0.89"/>
<rect x="406.2" y="323.6" width="0.9" height="0.9" fill="#444" opacity="0.90"/>
<rect x="405.1" y="244.1" width="0.9" height="0.9" fill="#444" opacity="0.77"/>
<rect x="457.4" y="263.8" width="0.9" height="0.9" fill="#444" opacity="0.91"/>
<rect x="410.6" y="242.5" width="0.9" height="0.9" fill="#444" opacity="0.55"/>
<rect x="354.1" y="288.6" width="0.9" height="0.9" fill="#444" opacity="0.90"/>
<rect x="420.3" y="326.0" width="0.9" height="0.9" fill="#444" opacity="0.75"/>
<rect x="459.9" y="277.9" width="0.9" height="0.9" fill="#444" opacity="0.50"/>
<rect x="453.5" y="233.9" width="0.9" height="0.9" fill="#444" opacity="0.73"/>
<rect x="365.4" y="251.8" width="0.9" height="0.9" fill="#444" opacity="0.71"/>
<rect x="459.0" y="267.1" width="0.9" height="0.9" fill="#444" opacity="0.93"/>
<rect x="352.1" y="321.1" width="0.9" height="0.9" fill="#444" opacity="0.86"/>
<rect x="374.5" y="233.6" width="0.9" height="0.9" fill="#444" opacity="0.68"/>
<rect x="407.7" y="233.6" width="0.9" height="0.9" fill="#444" opacity="0.54"/>
<rect x="413.9" y="325.3" width="0.9" height="0.9" fill="#444" opacity="0.55"/>
<rect x="457.6" y="264.4" width="0.9" height="0.9" fill="#444" opacity="0.81"/>
<rect x="390.0" y="325.5" width="0.9" height="0.9" fill="#444" opacity="0.82"/>
<rect x="413.0" y="229.8" width="0.9" height="0.9" fill="#444" opacity="0.90"/>
<rect x="440.2" y="244.8" width="0.9" height="0.9" fill="#444" opacity="0.57"/>
<rect x="407.1" y="323.7" width="0.9" height="0.9" fill="#444" opacity="0.52"/>
<rect x="366.7" y="244.1" width="0.9" height="0.9" fill="#444" opacity="0.87"/>
<rect x="390.4" y="233.6" width="0.9" height="0.9" fill="#444" opacity="0.95"/>
<rect x="437.9" y="316.5" width="0.9" height="0.9" fill="#444" opacity="0.58"/>
<rect x="407.9" y="244.6" width="0.9" height="0.9" fill="#444" opacity="0.56"/>
<rect x="424.3" y="242.5" width="0.9" height="0.9" fill="#444" opacity="0.59"/>
<rect x="455.8" y="295.3" width="0.9" height="0.9" fill="#444" opacity="0.78"/>
<rect x="363.3" y="247.3" width="0.9" height="0.9" fill="#444" opacity="0.74"/>
<rect x="430.9" y="238.9" width="0.9" height="0.9" fill="#444" opacity="0.59"/>
<rect x="443.0" y="242.5" width="0.9" height="0.9" fill="#444" opacity="0.50"/>
<rect x="367.3" y="230.5" width="0.9" height="0.9" fill="#444" opacity="0.90"/>
<rect x="374.3" y="233.9" width="0.9" height="0.9" fill="#444" opacity="0.69"/>
<rect x="463.7" y="264.6" width="0.9" height="0.9" fill="#444" opacity="0.63"/>
<rect x="450.9" y="303.2" width="0.9" height="0.9" fill="#444" opacity="0.73"/>
<rect x="447.7" y="238.8" width="0.9" height="0.9" fill="#444" opacity="0.64"/>
<rect x="396.3" y="240.3" width="0.9" height="0.9" fill="#444" opacity="0.92"/>
<rect x="382.8" y="242.0" width="0.9" height="0.9" fill="#444" opacity="0.82"/>
<rect x="433.3" y="321.8" width="0.9" height="0.9" fill="#444" opacity="0.68"/>
<rect x="433.8" y="313.8" width="0.9" height="0.9" fill="#444" opacity="0.72"/>
<rect x="457.5" y="273.7" width="0.9" height="0.9" fill="#444" opacity="0.82"/>
<rect x="460.8" y="304.5" width="0.9" height="0.9" fill="#444" opacity="0.92"/>
<rect x="366.4" y="240.6" width="0.9" height="0.9" fill="#444" opacity="0.59"/>
<rect x="462.7" y="306.8" width="0.9" height="0.9" fill="#444" opacity="0.90"/>
<rect x="437.0" y="325.8" width="0.9" height="0.9" fill="#444" opacity="0.48"/>
<rect x="364.4" y="306.4" width="0.9" height="0.9" fill="#444" opacity="0.71"/>
<rect x="397.6" y="327.1" width="0.9" height="0.9" fill="#444" opacity="0.70"/>
<rect x="463.4" y="248.3" width="0.9" height="0.9" fill="#444" opacity="0.79"/>
<rect x="410.5" y="320.0" width="0.9" height="0.9" fill="#444" opacity="0.92"/>
<rect x="460.4" y="287.5" width="0.9" height="0.9" fill="#444" opacity="0.62"/>
<rect x="396.1" y="247.0" width="0.9" height="0.9" fill="#444" opacity="0.60"/>
<rect x="365.2" y="339.9" width="0.9" height="0.9" fill="#444" opacity="0.71"/>
<rect x="366.0" y="249.1" width="0.9" height="0.9" fill="#444" opacity="0.57"/>
<rect x="376.9" y="232.8" width="0.9" height="0.9" fill="#444" opacity="0.63"/>
<rect x="431.8" y="315.6" width="0.9" height="0.9" fill="#444" opacity="0.83"/>
<rect x="455.2" y="256.4" width="0.9" height="0.9" fill="#444" opacity="0.80"/>
<rect x="425.0" y="317.4" width="0.9" height="0.9" fill="#444" opacity="0.81"/>
<rect x="400.3" y="245.0" width="0.9" height="0.9" fill="#444" opacity="0.90"/>
<rect x="423.0" y="242.7" width="0.9" height="0.9" fill="#444" opacity="0.89"/>
<rect x="461.7" y="255.5" width="0.9" height="0.9" fill="#444" opacity="0.51"/>
<rect x="412.6" y="236.0" width="0.9" height="0.9" fill="#444" opacity="0.63"/>
<rect x="427.8" y="317.8" width="0.9" height="0.9" fill="#444" opacity="0.65"/>
<rect x="465.1" y="294.4" width="0.9" height="0.9" fill="#444" opacity="0.77"/>
<rect x="432.4" y="319.6" width="0.9" height="0.9" fill="#444" opacity="0.47"/>
<rect x="442.7" y="241.7" width="0.9" height="0.9" fill="#444" opacity="0.46"/>
<rect x="364.2" y="260.5" width="0.9" height="0.9" fill="#444" opacity="0.80"/>
<rect x="417.7" y="318.0" width="0.9" height="0.9" fill="#444" opacity="0.81"/>
<rect x="383.6" y="242.9" width="0.9" height="0.9" fill="#444" opacity="0.70"/>
<rect x="454.8" y="293.8" width="0.9" height="0.9" fill="#444" opacity="0.88"/>
<rect x="401.8" y="325.3" width="0.9" height="0.9" fill="#444" opacity="0.91"/>
<rect x="455.4" y="250.9" width="0.9" height="0.9" fill="#444" opacity="0.89"/>
<rect x="398.6" y="240.7" width="0.9" height="0.9" fill="#444" opacity="0.90"/>
<rect x="435.1" y="319.7" width="0.9" height="0.9" fill="#444" opacity="0.66"/>
<rect x="428.5" y="315.7" width="0.9" height="0.9" fill="#444" opacity="0.51"/>
<rect x="452.5" y="296.4" width="0.9" height="0.9" fill="#444" opacity="0.85"/>
<rect x="397.2" y="322.0" width="0.9" height="0.9" fill="#444" opacity="0.53"/>
<rect x="425.6" y="237.4" width="0.9" height="0.9" fill="#444" opacity="0.55"/>
<rect x="384.2" y="244.0" width="0.9" height="0.9" fill="#444" opacity="0.94"/>
<rect x="462.2" y="250.3" width="0.9" height="0.9" fill="#444" opacity="0.53"/>
<rect x="381.3" y="228.1" width="0.9" height="0.9" fill="#444" opacity="0.66"/>
<rect x="432.4" y="323.6" width="0.9" height="0.9" fill="#444" opacity="0.54"/>
<rect x="397.0" y="324.0" width="0.9" height="0.9" fill="#444" opacity="0.86"/>
<rect x="448.5" y="309.8" width="0.9" height="0.9" fill="#444" opacity="0.90"/>
<rect x="433.3" y="329.9" width="0.9" height="0.9" fill="#444" opacity="0.57"/>
<rect x="456.7" y="257.2" width="0.9" height="0.9" fill="#444" opacity="0.93"/>
<rect x="407.7" y="237.7" width="0.9" height="0.9" fill="#444" opacity="0.65"/>
<rect x="365.3" y="252.6" width="0.9" height="0.9" fill="#444" opacity="0.66"/>
<rect x="451.8" y="301.1" width="0.9" height="0.9" fill="#444" opacity="0.45"/>
<rect x="456.6" y="274.0" width="0.9" height="0.9" fill="#444" opacity="0.61"/>
<rect x="456.4" y="260.7" width="0.9" height="0.9" fill="#444" opacity="0.71"/>
<rect x="468.3" y="272.5" width="0.9" height="0.9" fill="#444" opacity="0.78"/>
<rect x="362.0" y="242.5" width="0.9" height="0.9" fill="#444" opacity="0.70"/>
<rect x="405.5" y="237.0" width="0.9" height="0.9" fill="#444" opacity="0.75"/>
<rect x="460.3" y="292.2" width="0.9" height="0.9" fill="#444" opacity="0.63"/>
<rect x="461.3" y="250.0" width="0.9" height="0.9" fill="#444" opacity="0.46"/>
<rect x="374.5" y="238.3" width="0.9" height="0.9" fill="#444" opacity="0.76"/>
<rect x="404.3" y="245.7" width="0.9" height="0.9" fill="#444" opacity="0.75"/>
<rect x="433.8" y="314.6" width="0.9" height="0.9" fill="#444" opacity="0.93"/>
<rect x="458.2" y="280.5" width="0.9" height="0.9" fill="#444" opacity="0.68"/>
<rect x="450.7" y="298.4" width="0.9" height="0.9" fill="#444" opacity="0.79"/>
<rect x="364.6" y="270.9" width="0.9" height="0.9" fill="#444" opacity="0.50"/>
<rect x="460.4" y="284.8" width="0.9" height="0.9" fill="#444" opacity="0.70"/>
<rect x="440.2" y="237.1" width="0.9" height="0.9" fill="#444" opacity="0.70"/>
<rect x="434.4" y="243.7" width="0.9" height="0.9" fill="#444" opacity="0.51"/>
<rect x="362.0" y="240.1" width="0.9" height="0.9" fill="#444" opacity="0.90"/>
<rect x="466.0" y="270.4" width="0.9" height="0.9" fill="#444" opacity="0.82"/>
<rect x="439.1" y="310.9" width="0.9" height="0.9" fill="#444" opacity="0.57"/>
<rect x="364.5" y="262.3" width="0.9" height="0.9" fill="#444" opacity="0.89"/>
<rect x="424.3" y="241.8" width="0.9" height="0.9" fill="#444" opacity="0.48"/>
<rect x="453.3" y="246.6" width="0.9" height="0.9" fill="#444" opacity="0.73"/>
<rect x="412.3" y="242.8" width="0.9" height="0.9" fill="#444" opacity="0.51"/>
<rect x="456.8" y="267.8" width="0.9" height="0.9" fill="#444" opacity="0.57"/>
<rect x="433.4" y="243.6" width="0.9" height="0.9" fill="#444" opacity="0.64"/>
<rect x="448.9" y="303.7" width="0.9" height="0.9" fill="#444" opacity="0.78"/>
<rect x="425.4" y="235.6" width="0.9" height="0.9" fill="#444" opacity="0.54"/>
<rect x="371.2" y="238.4" width="0.9" height="0.9" fill="#444" opacity="0.71"/>
<rect x="437.1" y="244.1" width="0.9" height="0.9" fill="#444" opacity="0.81"/>
<rect x="385.5" y="328.2" width="0.9" height="0.9" fill="#444" opacity="0.67"/>
<rect x="406.5" y="243.5" width="0.9" height="0.9" fill="#444" opacity="0.92"/>
<rect x="397.9" y="245.7" width="0.9" height="0.9" fill="#444" opacity="0.67"/>
<rect x="431.2" y="244.9" width="0.9" height="0.9" fill="#444" opacity="0.95"/>
<rect x="447.3" y="306.0" width="0.9" height="0.9" fill="#444" opacity="0.93"/>
<rect x="435.6" y="317.3" width="0.9" height="0.9" fill="#444" opacity="0.48"/>
<rect x="433.6" y="238.0" width="0.9" height="0.9" fill="#444" opacity="0.66"/>
<rect x="450.4" y="303.3" width="0.9" height="0.9" fill="#444" opacity="0.49"/>
<rect x="360.0" y="318.6" width="0.9" height="0.9" fill="#444" opacity="0.54"/>
<rect x="375.8" y="344.6" width="0.9" height="0.9" fill="#444" opacity="0.53"/>
<rect x="433.8" y="320.0" width="0.9" height="0.9" fill="#444" opacity="0.49"/>
<rect x="418.7" y="240.2" width="0.9" height="0.9" fill="#444" opacity="0.50"/>
<rect x="425.9" y="233.9" width="0.9" height="0.9" fill="#444" opacity="0.49"/>
<rect x="402.0" y="322.6" width="0.9" height="0.9" fill="#444" opacity="0.73"/>
<rect x="415.1" y="327.2" width="0.9" height="0.9" fill="#444" opacity="0.66"/>
<rect x="358.6" y="281.8" width="0.9" height="0.9" fill="#444" opacity="0.71"/>
<rect x="393.8" y="245.8" width="0.9" height="0.9" fill="#444" opacity="0.76"/>
<rect x="364.4" y="234.7" width="0.9" height="0.9" fill="#444" opacity="0.74"/>
<rect x="374.3" y="232.5" width="0.9" height="0.9" fill="#444" opacity="0.46"/>
<rect x="400.9" y="325.0" width="0.9" height="0.9" fill="#444" opacity="0.83"/>
<rect x="462.8" y="261.8" width="0.9" height="0.9" fill="#444" opacity="0.70"/>
<rect x="370.2" y="236.7" width="0.9" height="0.9" fill="#444" opacity="0.58"/>
<rect x="439.4" y="316.8" width="0.9" height="0.9" fill="#444" opacity="0.70"/>
<rect x="432.4" y="235.5" width="0.9" height="0.9" fill="#444" opacity="0.61"/>
<rect x="358.7" y="296.6" width="0.9" height="0.9" fill="#444" opacity="0.57"/>
<rect x="451.4" y="226.2" width="0.9" height="0.9" fill="#444" opacity="0.62"/>
<rect x="431.0" y="316.8" width="0.9" height="0.9" fill="#444" opacity="0.94"/>
<rect x="450.3" y="246.1" width="0.9" height="0.9" fill="#444" opacity="0.61"/>
<rect x="372.1" y="235.9" width="0.9" height="0.9" fill="#444" opacity="0.74"/>
<rect x="440.3" y="313.8" width="0.9" height="0.9" fill="#444" opacity="0.67"/>
<rect x="391.2" y="243.9" width="0.9" height="0.9" fill="#444" opacity="0.79"/>
<rect x="378.9" y="235.4" width="0.9" height="0.9" fill="#444" opacity="0.57"/>
<rect x="419.2" y="338.8" width="0.9" height="0.9" fill="#444" opacity="0.55"/>
<rect x="396.5" y="324.7" width="0.9" height="0.9" fill="#444" opacity="0.63"/>
<rect x="428.2" y="235.1" width="0.9" height="0.9" fill="#444" opacity="0.70"/>
<rect x="461.2" y="296.0" width="0.9" height="0.9" fill="#444" opacity="0.67"/>
<rect x="429.2" y="333.6" width="0.9" height="0.9" fill="#444" opacity="0.92"/>
<rect x="391.5" y="330.8" width="0.9" height="0.9" fill="#444" opacity="0.61"/>
<rect x="459.1" y="279.9" width="0.9" height="0.9" fill="#444" opacity="0.57"/>
<rect x="400.1" y="325.0" width="0.9" height="0.9" fill="#444" opacity="0.53"/>
<rect x="363.2" y="326.9" width="0.9" height="0.9" fill="#444" opacity="0.46"/>
<rect x="426.2" y="321.6" width="0.9" height="0.9" fill="#444" opacity="0.63"/>
<rect x="460.0" y="252.4" width="0.9" height="0.9" fill="#444" opacity="0.72"/>
<rect x="421.7" y="245.1" width="0.9" height="0.9" fill="#444" opacity="0.58"/>
<rect x="420.6" y="238.2" width="0.9" height="0.9" fill="#444" opacity="0.68"/>
<rect x="455.9" y="253.6" width="0.9" height="0.9" fill="#444" opacity="0.47"/>
<rect x="364.3" y="265.1" width="0.9" height="0.9" fill="#444" opacity="0.70"/>
<rect x="434.3" y="317.2" width="0.9" height="0.9" fill="#444" opacity="0.89"/>
<rect x="405.6" y="323.6" width="0.9" height="0.9" fill="#444" opacity="0.90"/>
<rect x="454.0" y="232.2" width="0.9" height="0.9" fill="#444" opacity="0.75"/>
<rect x="454.3" y="293.3" width="0.9" height="0.9" fill="#444" opacity="0.65"/>
<rect x="405.3" y="322.0" width="0.9" height="0.9" fill="#444" opacity="0.71"/>
<rect x="442.5" y="242.6" width="0.9" height="0.9" fill="#444" opacity="0.82"/>
<rect x="422.1" y="320.2" width="0.9" height="0.9" fill="#444" opacity="0.51"/>
<rect x="435.6" y="317.1" width="0.9" height="0.9" fill="#444" opacity="0.72"/>
<rect x="459.0" y="255.7" width="0.9" height="0.9" fill="#444" opacity="0.90"/>
<rect x="359.9" y="318.8" width="0.9" height="0.9" fill="#444" opacity="0.72"/>
<rect x="388.8" y="232.7" width="0.9" height="0.9" fill="#444" opacity="0.93"/>
<rect x="398.9" y="246.3" width="0.9" height="0.9" fill="#444" opacity="0.92"/>
<rect x="454.8" y="287.7" width="0.9" height="0.9" fill="#444" opacity="0.47"/>
<rect x="398.1" y="322.9" width="0.9" height="0.9" fill="#444" opacity="0.70"/>
<rect x="425.0" y="244.9" width="0.9" height="0.9" fill="#444" opacity="0.84"/>
<rect x="361.6" y="328.8" width="0.9" height="0.9" fill="#444" opacity="0.71"/>
<rect x="447.9" y="304.5" width="0.9" height="0.9" fill="#444" opacity="0.48"/>
<rect x="426.9" y="237.3" width="0.9" height="0.9" fill="#444" opacity="0.69"/>
<rect x="404.0" y="246.2" width="0.9" height="0.9" fill="#444" opacity="0.73"/>
<rect x="466.7" y="293.4" width="0.9" height="0.9" fill="#444" opacity="0.87"/>
<rect x="430.0" y="226.5" width="0.9" height="0.9" fill="#444" opacity="0.56"/>
<rect x="419.1" y="233.6" width="0.9" height="0.9" fill="#444" opacity="0.85"/>
<rect x="458.9" y="269.7" width="0.9" height="0.9" fill="#444" opacity="0.87"/>
<rect x="380.9" y="236.5" width="0.9" height="0.9" fill="#444" opacity="0.55"/>
<rect x="396.8" y="243.0" width="0.9" height="0.9" fill="#444" opacity="0.54"/>
<rect x="389.7" y="237.6" width="0.9" height="0.9" fill="#444" opacity="0.48"/>
<rect x="393.1" y="325.5" width="0.9" height="0.9" fill="#444" opacity="0.92"/>
<rect x="462.9" y="258.2" width="0.9" height="0.9" fill="#444" opacity="0.82"/>
<rect x="389.0" y="231.7" width="0.9" height="0.9" fill="#444" opacity="0.73"/>
<rect x="365.4" y="253.4" width="0.9" height="0.9" fill="#444" opacity="0.69"/>
<rect x="428.0" y="244.5" width="0.9" height="0.9" fill="#444" opacity="0.94"/>
<rect x="407.5" y="324.7" width="0.9" height="0.9" fill="#444" opacity="0.69"/>
<rect x="400.8" y="227.7" width="0.9" height="0.9" fill="#444" opacity="0.59"/>
<rect x="374.2" y="237.4" width="0.9" height="0.9" fill="#444" opacity="0.82"/>
<rect x="452.9" y="245.1" width="0.9" height="0.9" fill="#444" opacity="0.94"/>
<rect x="364.6" y="247.6" width="0.9" height="0.9" fill="#444" opacity="0.81"/>
<rect x="421.7" y="244.2" width="0.9" height="0.9" fill="#444" opacity="0.66"/>
<rect x="457.1" y="270.0" width="0.9" height="0.9" fill="#444" opacity="0.68"/>
<rect x="386.5" y="243.2" width="0.9" height="0.9" fill="#444" opacity="0.92"/>
<rect x="374.4" y="338.9" width="0.9" height="0.9" fill="#444" opacity="0.52"/>
<rect x="360.0" y="268.4" width="0.9" height="0.9" fill="#444" opacity="0.61"/>
<rect x="373.5" y="238.3" width="0.9" height="0.9" fill="#444" opacity="0.65"/>
<rect x="448.6" y="244.2" width="0.9" height="0.9" fill="#444" opacity="0.59"/>
<rect x="403.2" y="242.1" width="0.9" height="0.9" fill="#444" opacity="0.89"/>
<rect x="415.4" y="243.4" width="0.9" height="0.9" fill="#444" opacity="0.59"/>
<rect x="369.2" y="226.1" width="0.9" height="0.9" fill="#444" opacity="0.83"/>
<rect x="412.5" y="234.2" width="0.9" height="0.9" fill="#444" opacity="0.89"/>
<rect x="399.0" y="320.7" width="0.9" height="0.9" fill="#444" opacity="0.64"/>
<rect x="456.6" y="289.1" width="0.9" height="0.9" fill="#444" opacity="0.67"/>
<rect x="413.6" y="235.3" width="0.9" height="0.9" fill="#444" opacity="0.88"/>
<rect x="393.5" y="322.9" width="0.9" height="0.9" fill="#444" opacity="0.59"/>
<rect x="455.7" y="256.1" width="0.9" height="0.9" fill="#444" opacity="0.68"/>
<rect x="455.5" y="285.6" width="0.9" height="0.9" fill="#444" opacity="0.51"/>
<rect x="439.3" y="239.6" width="0.9" height="0.9" fill="#444" opacity="0.78"/>
<rect x="367.6" y="241.4" width="0.9" height="0.9" fill="#444" opacity="0.53"/>
<rect x="427.7" y="242.8" width="0.9" height="0.9" fill="#444" opacity="0.86"/>
<rect x="427.4" y="317.5" width="0.9" height="0.9" fill="#444" opacity="0.52"/>
<rect x="395.5" y="329.6" width="0.9" height="0.9" fill="#444" opacity="0.59"/>
<rect x="410.4" y="322.1" width="0.9" height="0.9" fill="#444" opacity="0.80"/>
<rect x="410.3" y="319.6" width="0.9" height="0.9" fill="#444" opacity="0.56"/>
<rect x="405.8" y="324.2" width="0.9" height="0.9" fill="#444" opacity="0.46"/>
<rect x="458.1" y="269.4" width="0.9" height="0.9" fill="#444" opacity="0.89"/>
<rect x="384.7" y="345.0" width="0.9" height="0.9" fill="#444" opacity="0.63"/>
<rect x="355.9" y="293.3" width="0.9" height="0.9" fill="#444" opacity="0.94"/>
<rect x="403.2" y="243.1" width="0.9" height="0.9" fill="#444" opacity="0.89"/>
<rect x="458.1" y="300.2" width="0.9" height="0.9" fill="#444" opacity="0.73"/>
<rect x="430.7" y="315.6" width="0.9" height="0.9" fill="#444" opacity="0.55"/>
<rect x="366.5" y="338.3" width="0.9" height="0.9" fill="#444" opacity="0.66"/>
<rect x="451.0" y="328.4" width="0.9" height="0.9" fill="#444" opacity="0.77"/>
<rect x="451.3" y="313.8" width="0.9" height="0.9" fill="#444" opacity="0.52"/>
<rect x="393.4" y="238.7" width="0.9" height="0.9" fill="#444" opacity="0.62"/>
<rect x="459.5" y="299.3" width="0.9" height="0.9" fill="#444" opacity="0.70"/>
<rect x="439.0" y="242.4" width="0.9" height="0.9" fill="#444" opacity="0.50"/>
<rect x="366.5" y="244.0" width="0.9" height="0.9" fill="#444" opacity="0.60"/>
<rect x="418.1" y="320.6" width="0.9" height="0.9" fill="#444" opacity="0.56"/>
<rect x="400.1" y="323.3" width="0.9" height="0.9" fill="#444" opacity="0.51"/>
<rect x="426.7" y="318.8" width="0.9" height="0.9" fill="#444" opacity="0.81"/>
<rect x="364.0" y="256.5" width="0.9" height="0.9" fill="#444" opacity="0.81"/>
<rect x="365.6" y="242.8" width="0.9" height="0.9" fill="#444" opacity="0.77"/>
<rect x="456.6" y="250.4" width="0.9" height="0.9" fill="#444" opacity="0.65"/>
<rect x="400.0" y="324.3" width="0.9" height="0.9" fill="#444" opacity="0.87"/>
<rect x="453.4" y="244.6" width="0.9" height="0.9" fill="#444" opacity="0.69"/>
<rect x="380.9" y="234.8" width="0.9" height="0.9" fill="#444" opacity="0.63"/>
<rect x="365.3" y="231.4" width="0.9" height="0.9" fill="#444" opacity="0.89"/>
<rect x="414.4" y="245.2" width="0.9" height="0.9" fill="#444" opacity="0.56"/>
<rect x="395.6" y="248.1" width="0.9" height="0.9" fill="#444" opacity="0.79"/>
<rect x="414.2" y="321.6" width="0.9" height="0.9" fill="#444" opacity="0.94"/>
<rect x="452.3" y="301.7" width="0.9" height="0.9" fill="#444" opacity="0.73"/>
<rect x="400.3" y="243.7" width="0.9" height="0.9" fill="#444" opacity="0.85"/>
<rect x="450.7" y="298.1" width="0.9" height="0.9" fill="#444" opacity="0.84"/>
<rect x="388.0" y="327.4" width="0.9" height="0.9" fill="#444" opacity="0.86"/>
<rect x="364.4" y="271.9" width="0.9" height="0.9" fill="#444" opacity="0.91"/>
<rect x="396.3" y="329.9" width="0.9" height="0.9" fill="#444" opacity="0.47"/>
<rect x="372.9" y="234.2" width="0.9" height="0.9" fill="#444" opacity="0.83"/>
<rect x="456.6" y="282.7" width="0.9" height="0.9" fill="#444" opacity="0.47"/>
<rect x="417.6" y="244.6" width="0.9" height="0.9" fill="#444" opacity="0.75"/>
<rect x="416.6" y="319.9" width="0.9" height="0.9" fill="#444" opacity="0.85"/>
<rect x="453.5" y="291.0" width="0.9" height="0.9" fill="#444" opacity="0.70"/>
<rect x="420.5" y="241.5" width="0.9" height="0.9" fill="#444" opacity="0.62"/>
<rect x="420.4" y="239.6" width="0.9" height="0.9" fill="#444" opacity="0.62"/>
<rect x="468.5" y="270.5" width="0.9" height="0.9" fill="#444" opacity="0.47"/>
<rect x="379.6" y="337.0" width="0.9" height="0.9" fill="#444" opacity="0.60"/>
<rect x="399.9" y="323.2" width="0.9" height="0.9" fill="#444" opacity="0.67"/>
<rect x="396.9" y="244.8" width="0.9" height="0.9" fill="#444" opacity="0.63"/>
<rect x="456.6" y="264.5" width="0.9" height="0.9" fill="#444" opacity="0.80"/>
<rect x="461.4" y="278.8" width="0.9" height="0.9" fill="#444" opacity="0.65"/>
<rect x="421.2" y="326.9" width="0.9" height="0.9" fill="#444" opacity="0.63"/>
<rect x="401.4" y="243.9" width="0.9" height="0.9" fill="#444" opacity="0.77"/>
<rect x="414.4" y="234.1" width="0.9" height="0.9" fill="#444" opacity="0.82"/>
<rect x="407.5" y="320.5" width="0.9" height="0.9" fill="#444" opacity="0.64"/>
<rect x="360.6" y="302.9" width="0.9" height="0.9" fill="#444" opacity="0.83"/>
<rect x="382.5" y="226.8" width="0.9" height="0.9" fill="#444" opacity="0.85"/>
<rect x="446.1" y="305.7" width="0.9" height="0.9" fill="#444" opacity="0.54"/>
<rect x="364.1" y="237.5" width="0.9" height="0.9" fill="#444" opacity="0.78"/>
<rect x="412.4" y="241.2" width="0.9" height="0.9" fill="#444" opacity="0.70"/>
<rect x="401.2" y="245.5" width="0.9" height="0.9" fill="#444" opacity="0.60"/>
<rect x="397.7" y="233.2" width="0.9" height="0.9" fill="#444" opacity="0.95"/>
<rect x="453.6" y="310.8" width="0.9" height="0.9" fill="#444" opacity="0.90"/>
<rect x="463.5" y="275.7" width="0.9" height="0.9" fill="#444" opacity="0.91"/>
<rect x="460.1" y="283.8" width="0.9" height="0.9" fill="#444" opacity="0.72"/>
<rect x="349.4" y="263.3" width="0.9" height="0.9" fill="#444" opacity="0.75"/>
<rect x="454.8" y="287.0" width="0.9" height="0.9" fill="#444" opacity="0.62"/>
<rect x="375.1" y="237.6" width="0.9" height="0.9" fill="#444" opacity="0.90"/>
<rect x="460.2" y="297.9" width="0.9" height="0.9" fill="#444" opacity="0.77"/>
<rect x="426.7" y="320.7" width="0.9" height="0.9" fill="#444" opacity="0.80"/>
<rect x="394.4" y="240.0" width="0.9" height="0.9" fill="#444" opacity="0.86"/>
<rect x="425.5" y="240.3" width="0.9" height="0.9" fill="#444" opacity="0.66"/>
<rect x="419.4" y="318.4" width="0.9" height="0.9" fill="#444" opacity="0.63"/>
<rect x="444.0" y="238.0" width="0.9" height="0.9" fill="#444" opacity="0.78"/>
<rect x="386.9" y="330.7" width="0.9" height="0.9" fill="#444" opacity="0.50"/>
<rect x="429.7" y="238.5" width="0.9" height="0.9" fill="#444" opacity="0.72"/>
<rect x="392.1" y="242.0" width="0.9" height="0.9" fill="#444" opacity="0.49"/>
<rect x="388.7" y="327.0" width="0.9" height="0.9" fill="#444" opacity="0.64"/>
<rect x="459.2" y="269.0" width="0.9" height="0.9" fill="#444" opacity="0.90"/>
<rect x="467.4" y="277.2" width="0.9" height="0.9" fill="#444" opacity="0.48"/>
<rect x="368.2" y="231.6" width="0.9" height="0.9" fill="#444" opacity="0.51"/>
<rect x="363.2" y="285.4" width="0.9" height="0.9" fill="#444" opacity="0.90"/>
<rect x="370.5" y="337.4" width="0.9" height="0.9" fill="#444" opacity="0.51"/>
<rect x="467.7" y="267.9" width="0.9" height="0.9" fill="#444" opacity="0.88"/>
<rect x="452.8" y="248.5" width="0.9" height="0.9" fill="#444" opacity="0.75"/>
<rect x="457.2" y="303.3" width="0.9" height="0.9" fill="#444" opacity="0.91"/>
<rect x="413.3" y="326.8" width="0.9" height="0.9" fill="#444" opacity="0.48"/>
<rect x="383.3" y="242.2" width="0.9" height="0.9" fill="#444" opacity="0.51"/>
<rect x="385.1" y="329.9" width="0.9" height="0.9" fill="#444" opacity="0.67"/>
<rect x="458.9" y="296.7" width="0.9" height="0.9" fill="#444" opacity="0.84"/>
<rect x="451.8" y="238.0" width="0.9" height="0.9" fill="#444" opacity="0.58"/>
<rect x="435.8" y="242.1" width="0.9" height="0.9" fill="#444" opacity="0.66"/>
<rect x="456.6" y="248.2" width="0.9" height="0.9" fill="#444" opacity="0.49"/>
<rect x="458.1" y="296.0" width="0.9" height="0.9" fill="#444" opacity="0.70"/>
<rect x="420.4" y="325.5" width="0.9" height="0.9" fill="#444" opacity="0.78"/>
<rect x="446.9" y="306.8" width="0.9" height="0.9" fill="#444" opacity="0.92"/>
<rect x="439.7" y="239.1" width="0.9" height="0.9" fill="#444" opacity="0.52"/>
<rect x="442.2" y="322.0" width="0.9" height="0.9" fill="#444" opacity="0.90"/>
<rect x="397.9" y="321.5" width="0.9" height="0.9" fill="#444" opacity="0.63"/>
<rect x="391.3" y="326.2" width="0.9" height="0.9" fill="#444" opacity="0.72"/>
<rect x="452.7" y="294.4" width="0.9" height="0.9" fill="#444" opacity="0.61"/>
<rect x="411.5" y="242.2" width="0.9" height="0.9" fill="#444" opacity="0.78"/>
<rect x="426.5" y="326.2" width="0.9" height="0.9" fill="#444" opacity="0.59"/>
<rect x="351.5" y="287.4" width="0.9" height="0.9" fill="#444" opacity="0.72"/>
<rect x="391.8" y="235.1" width="0.9" height="0.9" fill="#444" opacity="0.76"/>
<rect x="458.0" y="262.5" width="0.9" height="0.9" fill="#444" opacity="0.94"/>
<rect x="448.2" y="319.0" width="0.9" height="0.9" fill="#444" opacity="0.68"/>
<rect x="415.7" y="236.3" width="0.9" height="0.9" fill="#444" opacity="0.61"/>
<rect x="365.5" y="251.4" width="0.9" height="0.9" fill="#444" opacity="0.47"/>
<rect x="364.1" y="275.3" width="0.9" height="0.9" fill="#444" opacity="0.91"/>
<rect x="372.2" y="338.0" width="0.9" height="0.9" fill="#444" opacity="0.71"/>
<rect x="450.9" y="314.2" width="0.9" height="0.9" fill="#444" opacity="0.87"/>
<rect x="392.8" y="245.2" width="0.9" height="0.9" fill="#444" opacity="0.50"/>
<rect x="346.3" y="256.6" width="0.9" height="0.9" fill="#444" opacity="0.68"/>
<rect x="455.9" y="262.5" width="0.9" height="0.9" fill="#444" opacity="0.47"/>
<rect x="413.0" y="320.8" width="0.9" height="0.9" fill="#444" opacity="0.83"/>
<rect x="451.9" y="300.7" width="0.9" height="0.9" fill="#444" opacity="0.64"/>
<rect x="457.4" y="259.2" width="0.9" height="0.9" fill="#444" opacity="0.82"/>
<rect x="463.2" y="266.9" width="0.9" height="0.9" fill="#444" opacity="0.89"/>
<rect x="421.7" y="242.1" width="0.9" height="0.9" fill="#444" opacity="0.74"/>
<rect x="457.2" y="292.5" width="0.9" height="0.9" fill="#444" opacity="0.58"/>
<rect x="441.9" y="323.2" width="0.9" height="0.9" fill="#444" opacity="0.72"/>
<rect x="362.5" y="278.7" width="0.9" height="0.9" fill="#444" opacity="0.58"/>
<rect x="418.4" y="240.7" width="0.9" height="0.9" fill="#444" opacity="0.62"/>
<rect x="375.9" y="235.8" width="0.9" height="0.9" fill="#444" opacity="0.78"/>
<rect x="439.1" y="318.2" width="0.9" height="0.9" fill="#444" opacity="0.52"/>
<rect x="439.2" y="230.2" width="0.9" height="0.9" fill="#444" opacity="0.90"/>
<rect x="386.3" y="238.6" width="0.9" height="0.9" fill="#444" opacity="0.78"/>
<rect x="419.9" y="318.8" width="0.9" height="0.9" fill="#444" opacity="0.64"/>
<rect x="422.6" y="323.7" width="0.9" height="0.9" fill="#444" opacity="0.65"/>
<rect x="396.4" y="248.1" width="0.9" height="0.9" fill="#444" opacity="0.46"/>
<rect x="399.3" y="242.8" width="0.9" height="0.9" fill="#444" opacity="0.77"/>
<rect x="378.4" y="345.6" width="0.9" height="0.9" fill="#444" opacity="0.58"/>
<rect x="355.5" y="315.7" width="0.9" height="0.9" fill="#444" opacity="0.90"/>
<rect x="350.2" y="275.7" width="0.9" height="0.9" fill="#444" opacity="0.63"/>
<rect x="414.9" y="324.6" width="0.9" height="0.9" fill="#444" opacity="0.48"/>
<rect x="449.9" y="312.8" width="0.9" height="0.9" fill="#444" opacity="0.75"/>
<rect x="425.7" y="318.3" width="0.9" height="0.9" fill="#444" opacity="0.49"/>
<rect x="453.4" y="296.0" width="0.9" height="0.9" fill="#444" opacity="0.83"/>
<rect x="422.7" y="225.4" width="0.9" height="0.9" fill="#444" opacity="0.82"/>
<rect x="363.4" y="254.0" width="0.9" height="0.9" fill="#444" opacity="0.95"/>
<rect x="428.9" y="236.3" width="0.9" height="0.9" fill="#444" opacity="0.90"/>
<rect x="420.4" y="319.1" width="0.9" height="0.9" fill="#444" opacity="0.57"/>
<rect x="432.1" y="315.8" width="0.9" height="0.9" fill="#444" opacity="0.84"/>
<rect x="461.3" y="298.0" width="0.9" height="0.9" fill="#444" opacity="0.65"/>
<rect x="395.6" y="242.2" width="0.9" height="0.9" fill="#444" opacity="0.75"/>
<rect x="429.8" y="321.1" width="0.9" height="0.9" fill="#444" opacity="0.52"/>
<rect x="435.3" y="319.3" width="0.9" height="0.9" fill="#444" opacity="0.58"/>
<rect x="433.9" y="313.6" width="0.9" height="0.9" fill="#444" opacity="0.46"/>
<rect x="429.0" y="225.7" width="0.9" height="0.9" fill="#444" opacity="0.57"/>
<rect x="391.4" y="244.0" width="0.9" height="0.9" fill="#444" opacity="0.64"/>
<rect x="412.9" y="339.0" width="0.9" height="0.9" fill="#444" opacity="0.58"/>
<rect x="415.3" y="320.9" width="0.9" height="0.9" fill="#444" opacity="0.92"/>
<rect x="408.5" y="245.9" width="0.9" height="0.9" fill="#444" opacity="0.84"/>
<rect x="455.5" y="305.0" width="0.9" height="0.9" fill="#444" opacity="0.61"/>
<rect x="455.5" y="239.9" width="0.9" height="0.9" fill="#444" opacity="0.78"/>
<rect x="422.2" y="240.0" width="0.9" height="0.9" fill="#444" opacity="0.92"/>
<rect x="431.5" y="314.4" width="0.9" height="0.9" fill="#444" opacity="0.65"/>
<rect x="468.6" y="254.9" width="0.9" height="0.9" fill="#444" opacity="0.54"/>
<rect x="439.2" y="326.0" width="0.9" height="0.9" fill="#444" opacity="0.55"/>
<rect x="465.6" y="269.8" width="0.9" height="0.9" fill="#444" opacity="0.56"/>
<rect x="435.2" y="243.9" width="0.9" height="0.9" fill="#444" opacity="0.70"/>
<rect x="466.2" y="275.6" width="0.9" height="0.9" fill="#444" opacity="0.47"/>
<rect x="408.3" y="242.9" width="0.9" height="0.9" fill="#444" opacity="0.76"/>
<rect x="399.3" y="321.4" width="0.9" height="0.9" fill="#444" opacity="0.55"/>
<rect x="372.3" y="232.0" width="0.9" height="0.9" fill="#444" opacity="0.57"/>
<rect x="434.8" y="240.2" width="0.9" height="0.9" fill="#444" opacity="0.71"/>
<rect x="452.3" y="302.6" width="0.9" height="0.9" fill="#444" opacity="0.47"/>
<rect x="368.2" y="243.5" width="0.9" height="0.9" fill="#444" opacity="0.47"/>
<rect x="362.4" y="260.7" width="0.9" height="0.9" fill="#444" opacity="0.81"/>
<rect x="427.3" y="316.6" width="0.9" height="0.9" fill="#444" opacity="0.85"/>
<rect x="469.6" y="235.8" width="0.9" height="0.9" fill="#444" opacity="0.71"/>
<rect x="405.6" y="321.6" width="0.9" height="0.9" fill="#444" opacity="0.58"/>
<rect x="462.6" y="269.4" width="0.9" height="0.9" fill="#444" opacity="0.71"/>
<rect x="438.3" y="241.1" width="0.9" height="0.9" fill="#444" opacity="0.79"/>
<rect x="450.3" y="230.6" width="0.9" height="0.9" fill="#444" opacity="0.68"/>
<rect x="459.5" y="254.0" width="0.9" height="0.9" fill="#444" opacity="0.91"/>
<rect x="387.1" y="246.4" width="0.9" height="0.9" fill="#444" opacity="0.75"/>
<rect x="418.4" y="239.7" width="0.9" height="0.9" fill="#444" opacity="0.91"/>
<rect x="442.3" y="309.4" width="0.9" height="0.9" fill="#444" opacity="0.58"/>
<rect x="455.7" y="258.8" width="0.9" height="0.9" fill="#444" opacity="0.90"/>
<rect x="364.3" y="277.7" width="0.9" height="0.9" fill="#444" opacity="0.61"/>
<rect x="453.0" y="242.5" width="0.9" height="0.9" fill="#444" opacity="0.50"/>
<rect x="453.1" y="301.5" width="0.9" height="0.9" fill="#444" opacity="0.71"/>
<rect x="364.6" y="250.2" width="0.9" height="0.9" fill="#444" opacity="0.73"/>
<rect x="362.6" y="270.1" width="0.9" height="0.9" fill="#444" opacity="0.71"/>
<rect x="365.2" y="249.9" width="0.9" height="0.9" fill="#444" opacity="0.89"/>
<rect x="363.4" y="320.5" width="0.9" height="0.9" fill="#444" opacity="0.77"/>
<rect x="441.5" y="231.5" width="0.9" height="0.9" fill="#444" opacity="0.48"/>
<rect x="461.4" y="242.5" width="0.9" height="0.9" fill="#444" opacity="0.68"/>
<rect x="382.6" y="239.7" width="0.9" height="0.9" fill="#444" opacity="0.71"/>
<rect x="443.2" y="316.6" width="0.9" height="0.9" fill="#444" opacity="0.56"/>
<rect x="436.0" y="244.7" width="0.9" height="0.9" fill="#444" opacity="0.61"/>
<rect x="420.2" y="322.1" width="0.9" height="0.9" fill="#444" opacity="0.46"/>
<rect x="388.8" y="245.9" width="0.9" height="0.9" fill="#444" opacity="0.48"/>
<rect x="453.8" y="299.1" width="0.9" height="0.9" fill="#444" opacity="0.89"/>
<rect x="461.5" y="250.0" width="0.9" height="0.9" fill="#444" opacity="0.84"/>
<rect x="385.9" y="327.5" width="0.9" height="0.9" fill="#444" opacity="0.65"/>
<rect x="376.3" y="228.4" width="0.9" height="0.9" fill="#444" opacity="0.95"/>
<rect x="365.9" y="232.6" width="0.9" height="0.9" fill="#444" opacity="0.83"/>
<rect x="383.8" y="333.5" width="0.9" height="0.9" fill="#444" opacity="0.88"/>
<rect x="395.3" y="247.3" width="0.9" height="0.9" fill="#444" opacity="0.71"/>
<rect x="426.1" y="320.4" width="0.9" height="0.9" fill="#444" opacity="0.75"/>
<rect x="359.7" y="236.9" width="0.9" height="0.9" fill="#444" opacity="0.59"/>
<rect x="433.0" y="242.5" width="0.9" height="0.9" fill="#444" opacity="0.79"/>
<rect x="456.6" y="265.6" width="0.9" height="0.9" fill="#444" opacity="0.91"/>
<rect x="366.8" y="240.2" width="0.9" height="0.9" fill="#444" opacity="0.71"/>
<rect x="395.4" y="246.7" width="0.9" height="0.9" fill="#444" opacity="0.78"/>
<rect x="409.8" y="245.4" width="0.9" height="0.9" fill="#444" opacity="0.72"/>
<rect x="414.0" y="323.4" width="0.9" height="0.9" fill="#444" opacity="0.61"/>
<rect x="454.7" y="290.3" width="0.9" height="0.9" fill="#444" opacity="0.89"/>
<rect x="463.1" y="290.6" width="0.9" height="0.9" fill="#444" opacity="0.89"/>
<rect x="465.3" y="247.2" width="0.9" height="0.9" fill="#444" opacity="0.50"/>
<rect x="365.4" y="247.1" width="0.9" height="0.9" fill="#444" opacity="0.75"/>
<rect x="367.1" y="241.0" width="0.9" height="0.9" fill="#444" opacity="0.53"/>
<rect x="386.0" y="327.6" width="0.9" height="0.9" fill="#444" opacity="0.76"/>
<rect x="449.7" y="322.3" width="0.9" height="0.9" fill="#444" opacity="0.92"/>
<rect x="366.1" y="240.2" width="0.9" height="0.9" fill="#444" opacity="0.77"/>
<rect x="462.4" y="261.1" width="0.9" height="0.9" fill="#444" opacity="0.93"/>
<rect x="397.1" y="244.9" width="0.9" height="0.9" fill="#444" opacity="0.54"/>
<rect x="428.2" y="315.2" width="0.9" height="0.9" fill="#444" opacity="0.72"/>
<rect x="415.8" y="325.3" width="0.9" height="0.9" fill="#444" opacity="0.61"/>
<rect x="385.0" y="241.8" width="0.9" height="0.9" fill="#444" opacity="0.72"/>
<rect x="415.8" y="321.1" width="0.9" height="0.9" fill="#444" opacity="0.92"/>
<rect x="419.9" y="325.5" width="0.9" height="0.9" fill="#444" opacity="0.52"/>
<rect x="445.3" y="239.8" width="0.9" height="0.9" fill="#444" opacity="0.80"/>
<rect x="426.8" y="244.1" width="0.9" height="0.9" fill="#444" opacity="0.92"/>
<rect x="441.5" y="238.5" width="0.9" height="0.9" fill="#444" opacity="0.47"/>
<rect x="467.4" y="270.4" width="0.9" height="0.9" fill="#444" opacity="0.82"/>
<rect x="435.7" y="244.1" width="0.9" height="0.9" fill="#444" opacity="0.48"/>
<rect x="389.5" y="236.7" width="0.9" height="0.9" fill="#444" opacity="0.58"/>
<rect x="432.1" y="244.1" width="0.9" height="0.9" fill="#444" opacity="0.68"/>
<rect x="440.1" y="312.1" width="0.9" height="0.9" fill="#444" opacity="0.59"/>
<rect x="452.3" y="323.1" width="0.9" height="0.9" fill="#444" opacity="0.50"/>
<rect x="350.0" y="249.4" width="0.9" height="0.9" fill="#444" opacity="0.58"/>
<rect x="446.1" y="244.3" width="0.9" height="0.9" fill="#444" opacity="0.55"/>
<rect x="468.2" y="300.0" width="0.9" height="0.9" fill="#444" opacity="0.61"/>
<rect x="364.1" y="319.7" width="0.9" height="0.9" fill="#444" opacity="0.49"/>
<rect x="437.9" y="243.9" width="0.9" height="0.9" fill="#444" opacity="0.75"/>
<rect x="450.8" y="304.1" width="0.9" height="0.9" fill="#444" opacity="0.69"/>
<rect x="364.2" y="299.3" width="0.9" height="0.9" fill="#444" opacity="0.90"/>
<rect x="358.5" y="271.0" width="0.9" height="0.9" fill="#444" opacity="0.81"/>
<rect x="428.6" y="242.7" width="0.9" height="0.9" fill="#444" opacity="0.82"/>
<rect x="401.5" y="328.8" width="0.9" height="0.9" fill="#444" opacity="0.59"/>
<rect x="441.8" y="313.3" width="0.9" height="0.9" fill="#444" opacity="0.71"/>
<rect x="400.3" y="322.2" width="0.9" height="0.9" fill="#444" opacity="0.51"/>
<rect x="411.2" y="242.2" width="0.9" height="0.9" fill="#444" opacity="0.83"/>
<rect x="409.5" y="244.6" width="0.9" height="0.9" fill="#444" opacity="0.91"/>
<rect x="380.9" y="237.6" width="0.9" height="0.9" fill="#444" opacity="0.59"/>
<rect x="366.8" y="246.6" width="0.9" height="0.9" fill="#444" opacity="0.57"/>
<rect x="451.4" y="309.3" width="0.9" height="0.9" fill="#444" opacity="0.55"/>
<rect x="397.5" y="242.3" width="0.9" height="0.9" fill="#444" opacity="0.90"/>
<rect x="375.3" y="228.0" width="0.9" height="0.9" fill="#444" opacity="0.70"/>
<rect x="460.6" y="283.4" width="0.9" height="0.9" fill="#444" opacity="0.52"/>
<rect x="449.6" y="240.5" width="0.9" height="0.9" fill="#444" opacity="0.46"/>
<rect x="459.2" y="271.3" width="0.9" height="0.9" fill="#444" opacity="0.46"/>
<rect x="389.6" y="240.8" width="0.9" height="0.9" fill="#444" opacity="0.54"/>
<rect x="400.2" y="242.0" width="0.9" height="0.9" fill="#444" opacity="0.80"/>
<rect x="435.7" y="244.5" width="0.9" height="0.9" fill="#444" opacity="0.49"/>
<rect x="462.1" y="269.0" width="0.9" height="0.9" fill="#444" opacity="0.69"/>
<rect x="365.2" y="241.4" width="0.9" height="0.9" fill="#444" opacity="0.86"/>
<rect x="461.6" y="243.0" width="0.9" height="0.9" fill="#444" opacity="0.69"/>
<rect x="437.7" y="312.9" width="0.9" height="0.9" fill="#444" opacity="0.63"/>
<rect x="449.0" y="244.5" width="0.9" height="0.9" fill="#444" opacity="0.89"/>
<rect x="457.9" y="280.6" width="0.9" height="0.9" fill="#444" opacity="0.90"/>
<rect x="394.8" y="243.0" width="0.9" height="0.9" fill="#444" opacity="0.76"/>
<rect x="420.6" y="319.6" width="0.9" height="0.9" fill="#444" opacity="0.78"/>
<rect x="454.3" y="316.1" width="0.9" height="0.9" fill="#444" opacity="0.69"/>
<rect x="430.0" y="235.4" width="0.9" height="0.9" fill="#444" opacity="0.56"/>
<rect x="456.5" y="262.1" width="0.9" height="0.9" fill="#444" opacity="0.77"/>
<rect x="385.9" y="327.3" width="0.9" height="0.9" fill="#444" opacity="0.64"/>
<rect x="391.2" y="330.8" width="0.9" height="0.9" fill="#444" opacity="0.87"/>
<rect x="456.4" y="260.3" width="0.9" height="0.9" fill="#444" opacity="0.65"/>
<rect x="404.1" y="242.5" width="0.9" height="0.9" fill="#444" opacity="0.55"/>
<rect x="437.7" y="312.2" width="0.9" height="0.9" fill="#444" opacity="0.73"/>
<rect x="429.9" y="315.6" width="0.9" height="0.9" fill="#444" opacity="0.52"/>
<rect x="405.5" y="328.0" width="0.9" height="0.9" fill="#444" opacity="0.80"/>
<rect x="392.1" y="335.8" width="0.9" height="0.9" fill="#444" opacity="0.88"/>
<rect x="400.3" y="236.6" width="0.9" height="0.9" fill="#444" opacity="0.88"/>
<rect x="396.6" y="235.5" width="0.9" height="0.9" fill="#444" opacity="0.64"/>
<rect x="458.5" y="252.7" width="0.9" height="0.9" fill="#444" opacity="0.54"/>
<rect x="426.6" y="244.8" width="0.9" height="0.9" fill="#444" opacity="0.81"/>
<rect x="363.7" y="266.2" width="0.9" height="0.9" fill="#444" opacity="0.78"/>
<rect x="393.8" y="235.2" width="0.9" height="0.9" fill="#444" opacity="0.58"/>
<rect x="413.5" y="235.9" width="0.9" height="0.9" fill="#444" opacity="0.68"/>
<rect x="364.5" y="241.7" width="0.9" height="0.9" fill="#444" opacity="0.71"/>
<rect x="456.6" y="254.7" width="0.9" height="0.9" fill="#444" opacity="0.70"/>
<rect x="371.8" y="235.4" width="0.9" height="0.9" fill="#444" opacity="0.88"/>
<rect x="432.1" y="319.8" width="0.9" height="0.9" fill="#444" opacity="0.76"/>
<rect x="457.4" y="257.1" width="0.9" height="0.9" fill="#444" opacity="0.53"/>
<rect x="445.0" y="315.7" width="0.9" height="0.9" fill="#444" opacity="0.61"/>
<rect x="404.6" y="324.1" width="0.9" height="0.9" fill="#444" opacity="0.93"/>
<rect x="466.0" y="237.5" width="0.9" height="0.9" fill="#444" opacity="0.76"/>
<rect x="363.7" y="280.2" width="0.9" height="0.9" fill="#444" opacity="0.83"/>
<rect x="423.4" y="239.0" width="0.9" height="0.9" fill="#444" opacity="0.66"/>
<rect x="357.7" y="237.1" width="0.9" height="0.9" fill="#444" opacity="0.63"/>
<rect x="388.7" y="330.1" width="0.9" height="0.9" fill="#444" opacity="0.53"/>
<rect x="437.6" y="243.4" width="0.9" height="0.9" fill="#444" opacity="0.48"/>
<rect x="414.1" y="238.1" width="0.9" height="0.9" fill="#444" opacity="0.85"/>
<rect x="466.6" y="293.1" width="0.9" height="0.9" fill="#444" opacity="0.64"/>
<rect x="450.0" y="314.9" width="0.9" height="0.9" fill="#444" opacity="0.49"/>
<rect x="365.6" y="250.1" width="0.9" height="0.9" fill="#444" opacity="0.62"/>
<rect x="388.5" y="242.2" width="0.9" height="0.9" fill="#444" opacity="0.70"/>
<rect x="421.6" y="330.0" width="0.9" height="0.9" fill="#444" opacity="0.72"/>
<rect x="456.7" y="252.6" width="0.9" height="0.9" fill="#444" opacity="0.85"/>
<rect x="435.6" y="244.1" width="0.9" height="0.9" fill="#444" opacity="0.73"/>
<rect x="350.3" y="243.4" width="0.9" height="0.9" fill="#444" opacity="0.47"/>
<rect x="397.0" y="323.3" width="0.9" height="0.9" fill="#444" opacity="0.81"/>
<rect x="458.3" y="242.0" width="0.9" height="0.9" fill="#444" opacity="0.84"/>
<rect x="409.0" y="324.9" width="0.9" height="0.9" fill="#444" opacity="0.85"/>
<rect x="365.9" y="246.8" width="0.9" height="0.9" fill="#444" opacity="0.61"/>
<rect x="388.4" y="246.0" width="0.9" height="0.9" fill="#444" opacity="0.70"/>
<rect x="410.7" y="238.8" width="0.9" height="0.9" fill="#444" opacity="0.62"/>
<rect x="451.1" y="305.7" width="0.9" height="0.9" fill="#444" opacity="0.77"/>
<rect x="426.5" y="241.6" width="0.9" height="0.9" fill="#444" opacity="0.57"/>
<rect x="392.0" y="323.7" width="0.9" height="0.9" fill="#444" opacity="0.71"/>
<rect x="395.7" y="322.6" width="0.9" height="0.9" fill="#444" opacity="0.50"/>
<rect x="451.3" y="304.2" width="0.9" height="0.9" fill="#444" opacity="0.74"/>
<rect x="451.4" y="298.0" width="0.9" height="0.9" fill="#444" opacity="0.80"/>
<rect x="441.2" y="317.1" width="0.9" height="0.9" fill="#444" opacity="0.95"/>
<rect x="437.1" y="313.8" width="0.9" height="0.9" fill="#444" opacity="0.93"/>
<rect x="452.0" y="247.3" width="0.9" height="0.9" fill="#444" opacity="0.87"/>
<rect x="452.3" y="301.6" width="0.9" height="0.9" fill="#444" opacity="0.46"/>
<rect x="462.5" y="248.8" width="0.9" height="0.9" fill="#444" opacity="0.64"/>
<rect x="384.4" y="328.6" width="0.9" height="0.9" fill="#444" opacity="0.69"/>
<rect x="456.9" y="239.2" width="0.9" height="0.9" fill="#444" opacity="0.60"/>
<rect x="466.2" y="262.0" width="0.9" height="0.9" fill="#444" opacity="0.70"/>
<rect x="367.5" y="238.4" width="0.9" height="0.9" fill="#444" opacity="0.63"/>
<rect x="450.1" y="241.9" width="0.9" height="0.9" fill="#444" opacity="0.86"/>
<rect x="369.9" y="340.8" width="0.9" height="0.9" fill="#444" opacity="0.69"/>
<rect x="369.5" y="239.9" width="0.9" height="0.9" fill="#444" opacity="0.64"/>
<rect x="392.7" y="289.2" width="0.9" height="0.9" fill="#444" opacity="0.66"/>
<rect x="399.9" y="293.1" width="0.9" height="0.9" fill="#444" opacity="0.82"/>
<rect x="385.5" y="267.6" width="0.9" height="0.9" fill="#444" opacity="0.70"/>
<rect x="392.0" y="315.8" width="0.9" height="0.9" fill="#444" opacity="0.82"/>
<rect x="400.5" y="300.0" width="0.9" height="0.9" fill="#444" opacity="0.61"/>
<rect x="392.6" y="277.4" width="0.9" height="0.9" fill="#444" opacity="0.85"/>
<rect x="400.7" y="296.4" width="0.9" height="0.9" fill="#444" opacity="0.59"/>
<rect x="392.1" y="303.4" width="0.9" height="0.9" fill="#444" opacity="0.57"/>
<rect x="386.9" y="294.3" width="0.9" height="0.9" fill="#444" opacity="0.91"/>
<rect x="388.7" y="258.3" width="0.9" height="0.9" fill="#444" opacity="0.64"/>
<rect x="394.0" y="286.3" width="0.9" height="0.9" fill="#444" opacity="0.65"/>
<rect x="387.0" y="280.9" width="0.9" height="0.9" fill="#444" opacity="0.50"/>
<rect x="393.5" y="291.9" width="0.9" height="0.9" fill="#444" opacity="0.45"/>
<rect x="402.9" y="318.2" width="0.9" height="0.9" fill="#444" opacity="0.54"/>
<rect x="387.5" y="276.7" width="0.9" height="0.9" fill="#444" opacity="0.46"/>
<rect x="394.2" y="301.5" width="0.9" height="0.9" fill="#444" opacity="0.79"/>
<rect x="394.4" y="287.6" width="0.9" height="0.9" fill="#444" opacity="0.65"/>
<rect x="387.8" y="276.7" width="0.9" height="0.9" fill="#444" opacity="0.63"/>
<rect x="407.5" y="320.4" width="0.9" height="0.9" fill="#444" opacity="0.85"/>
<rect x="395.8" y="317.1" width="0.9" height="0.9" fill="#444" opacity="0.46"/>
<rect x="386.8" y="274.2" width="0.9" height="0.9" fill="#444" opacity="0.61"/>
<rect x="404.7" y="321.2" width="0.9" height="0.9" fill="#444" opacity="0.65"/>
<rect x="396.1" y="293.4" width="0.9" height="0.9" fill="#444" opacity="0.52"/>
<rect x="399.4" y="312.1" width="0.9" height="0.9" fill="#444" opacity="0.76"/>
<rect x="391.6" y="279.8" width="0.9" height="0.9" fill="#444" opacity="0.49"/>
<rect x="391.9" y="308.0" width="0.9" height="0.9" fill="#444" opacity="0.81"/>
<rect x="401.0" y="299.3" width="0.9" height="0.9" fill="#444" opacity="0.64"/>
<rect x="389.9" y="283.6" width="0.9" height="0.9" fill="#444" opacity="0.91"/>
<rect x="389.8" y="283.1" width="0.9" height="0.9" fill="#444" opacity="0.59"/>
<rect x="399.2" y="300.0" width="0.9" height="0.9" fill="#444" opacity="0.93"/>
<rect x="388.1" y="306.6" width="0.9" height="0.9" fill="#444" opacity="0.87"/>
<rect x="394.6" y="307.1" width="0.9" height="0.9" fill="#444" opacity="0.53"/>
<rect x="387.6" y="261.9" width="0.9" height="0.9" fill="#444" opacity="0.92"/>
<rect x="395.7" y="283.8" width="0.9" height="0.9" fill="#444" opacity="0.47"/>
<rect x="387.4" y="274.9" width="0.9" height="0.9" fill="#444" opacity="0.70"/>
<rect x="392.0" y="266.3" width="0.9" height="0.9" fill="#444" opacity="0.78"/>
<rect x="399.5" y="302.6" width="0.9" height="0.9" fill="#444" opacity="0.52"/>
<rect x="388.1" y="259.7" width="0.9" height="0.9" fill="#444" opacity="0.73"/>
<rect x="401.5" y="300.0" width="0.9" height="0.9" fill="#444" opacity="0.71"/>
<rect x="394.9" y="261.2" width="0.9" height="0.9" fill="#444" opacity="0.90"/>
<rect x="400.1" y="303.0" width="0.9" height="0.9" fill="#444" opacity="0.58"/>
<rect x="400.0" y="320.5" width="0.9" height="0.9" fill="#444" opacity="0.74"/>
<rect x="394.5" y="306.3" width="0.9" height="0.9" fill="#444" opacity="0.82"/>
<rect x="388.3" y="272.4" width="0.9" height="0.9" fill="#444" opacity="0.87"/>
<rect x="399.8" y="306.2" width="0.9" height="0.9" fill="#444" opacity="0.67"/>
<rect x="387.5" y="281.1" width="0.9" height="0.9" fill="#444" opacity="0.90"/>
<rect x="393.5" y="272.9" width="0.9" height="0.9" fill="#444" opacity="0.53"/>
<rect x="393.4" y="272.1" width="0.9" height="0.9" fill="#444" opacity="0.68"/>
<rect x="393.7" y="269.0" width="0.9" height="0.9" fill="#444" opacity="0.81"/>
<rect x="388.7" y="293.2" width="0.9" height="0.9" fill="#444" opacity="0.80"/>
<rect x="388.8" y="273.1" width="0.9" height="0.9" fill="#444" opacity="0.76"/>
<rect x="388.7" y="275.8" width="0.9" height="0.9" fill="#444" opacity="0.85"/>
<rect x="398.5" y="284.3" width="0.9" height="0.9" fill="#444" opacity="0.95"/>
<rect x="389.6" y="289.6" width="0.9" height="0.9" fill="#444" opacity="0.75"/>
<rect x="387.3" y="287.3" width="0.9" height="0.9" fill="#444" opacity="0.86"/>
<rect x="395.0" y="292.2" width="0.9" height="0.9" fill="#444" opacity="0.65"/>
<rect x="399.9" y="285.8" width="0.9" height="0.9" fill="#444" opacity="0.81"/>
<rect x="395.7" y="320.8" width="0.9" height="0.9" fill="#444" opacity="0.74"/>
<rect x="402.9" y="318.2" width="0.9" height="0.9" fill="#444" opacity="0.72"/>
<rect x="399.7" y="295.7" width="0.9" height="0.9" fill="#444" opacity="0.48"/>
<rect x="393.7" y="288.6" width="0.9" height="0.9" fill="#444" opacity="0.88"/>
<rect x="398.5" y="286.7" width="0.9" height="0.9" fill="#444" opacity="0.71"/>
<rect x="394.2" y="270.1" width="0.9" height="0.9" fill="#444" opacity="0.75"/>
<rect x="396.8" y="300.5" width="0.9" height="0.9" fill="#444" opacity="0.90"/>
<rect x="400.7" y="302.6" width="0.9" height="0.9" fill="#444" opacity="0.84"/>
<rect x="395.9" y="268.9" width="0.9" height="0.9" fill="#444" opacity="0.94"/>
<rect x="396.7" y="268.9" width="0.9" height="0.9" fill="#444" opacity="0.84"/>
<rect x="402.8" y="313.2" width="0.9" height="0.9" fill="#444" opacity="0.56"/>
<rect x="397.7" y="311.1" width="0.9" height="0.9" fill="#444" opacity="0.76"/>
<rect x="394.6" y="267.3" width="0.9" height="0.9" fill="#444" opacity="0.75"/>
<rect x="389.6" y="293.7" width="0.9" height="0.9" fill="#444" opacity="0.58"/>
<rect x="395.6" y="306.5" width="0.9" height="0.9" fill="#444" opacity="0.57"/>
<rect x="388.0" y="305.5" width="0.9" height="0.9" fill="#444" opacity="0.88"/>
<rect x="391.3" y="281.4" width="0.9" height="0.9" fill="#444" opacity="0.58"/>
<rect x="391.6" y="314.5" width="0.9" height="0.9" fill="#444" opacity="0.93"/>
<rect x="388.6" y="296.2" width="0.9" height="0.9" fill="#444" opacity="0.76"/>
<rect x="392.5" y="263.4" width="0.9" height="0.9" fill="#444" opacity="0.79"/>
<rect x="396.5" y="280.3" width="0.9" height="0.9" fill="#444" opacity="0.68"/>
<rect x="397.2" y="270.6" width="0.9" height="0.9" fill="#444" opacity="0.60"/>
<rect x="395.5" y="295.2" width="0.9" height="0.9" fill="#444" opacity="0.85"/>
<rect x="401.6" y="318.2" width="0.9" height="0.9" fill="#444" opacity="0.60"/>
<rect x="393.7" y="301.2" width="0.9" height="0.9" fill="#444" opacity="0.73"/>
<rect x="399.3" y="320.4" width="0.9" height="0.9" fill="#444" opacity="0.50"/>
<rect x="392.6" y="266.0" width="0.9" height="0.9" fill="#444" opacity="0.93"/>
<rect x="397.3" y="285.8" width="0.9" height="0.9" fill="#444" opacity="0.92"/>
<rect x="394.3" y="319.7" width="0.9" height="0.9" fill="#444" opacity="0.59"/>
<rect x="387.9" y="292.1" width="0.9" height="0.9" fill="#444" opacity="0.81"/>
<rect x="392.1" y="278.0" width="0.9" height="0.9" fill="#444" opacity="0.93"/>
<rect x="397.5" y="306.4" width="0.9" height="0.9" fill="#444" opacity="0.65"/>
<rect x="389.1" y="264.6" width="0.9" height="0.9" fill="#444" opacity="0.76"/>
<rect x="386.1" y="261.3" width="0.9" height="0.9" fill="#444" opacity="0.49"/>
<rect x="405.5" y="318.0" width="0.9" height="0.9" fill="#444" opacity="0.91"/>
<rect x="391.2" y="278.4" width="0.9" height="0.9" fill="#444" opacity="0.51"/>
<rect x="398.8" y="307.5" width="0.9" height="0.9" fill="#444" opacity="0.60"/>
<rect x="391.5" y="278.4" width="0.9" height="0.9" fill="#444" opacity="0.68"/>
<rect x="387.0" y="263.1" width="0.9" height="0.9" fill="#444" opacity="0.70"/>
<rect x="391.7" y="264.1" width="0.9" height="0.9" fill="#444" opacity="0.56"/>
<rect x="394.4" y="297.6" width="0.9" height="0.9" fill="#444" opacity="0.73"/>
<rect x="399.6" y="290.2" width="0.9" height="0.9" fill="#444" opacity="0.80"/>
<rect x="386.8" y="276.4" width="0.9" height="0.9" fill="#444" opacity="0.94"/>
<rect x="392.8" y="308.5" width="0.9" height="0.9" fill="#444" opacity="0.58"/>
<rect x="396.6" y="311.9" width="0.9" height="0.9" fill="#444" opacity="0.67"/>
<rect x="397.0" y="283.9" width="0.9" height="0.9" fill="#444" opacity="0.74"/>
<rect x="398.3" y="302.0" width="0.9" height="0.9" fill="#444" opacity="0.84"/>
<rect x="388.9" y="286.2" width="0.9" height="0.9" fill="#444" opacity="0.47"/>
<rect x="387.1" y="298.0" width="0.9" height="0.9" fill="#444" opacity="0.62"/>
<rect x="393.4" y="316.4" width="0.9" height="0.9" fill="#444" opacity="0.67"/>
<rect x="393.4" y="311.6" width="0.9" height="0.9" fill="#444" opacity="0.67"/>
<rect x="397.5" y="298.6" width="0.9" height="0.9" fill="#444" opacity="0.46"/>
<rect x="394.9" y="294.1" width="0.9" height="0.9" fill="#444" opacity="0.54"/>
<rect x="395.7" y="312.2" width="0.9" height="0.9" fill="#444" opacity="0.78"/>
<rect x="397.9" y="320.5" width="0.9" height="0.9" fill="#444" opacity="0.55"/>
<rect x="400.5" y="289.3" width="0.9" height="0.9" fill="#444" opacity="0.69"/>
<rect x="395.0" y="261.4" width="0.9" height="0.9" fill="#444" opacity="0.52"/>
<rect x="400.9" y="302.6" width="0.9" height="0.9" fill="#444" opacity="0.74"/>
<rect x="392.6" y="316.2" width="0.9" height="0.9" fill="#444" opacity="0.95"/>
<rect x="389.6" y="310.9" width="0.9" height="0.9" fill="#444" opacity="0.51"/>
<rect x="394.4" y="318.7" width="0.9" height="0.9" fill="#444" opacity="0.91"/>
<rect x="387.8" y="292.7" width="0.9" height="0.9" fill="#444" opacity="0.46"/>
<rect x="400.3" y="314.2" width="0.9" height="0.9" fill="#444" opacity="0.55"/>
<rect x="392.8" y="319.9" width="0.9" height="0.9" fill="#444" opacity="0.91"/>
<rect x="429.2" y="308.9" width="0.9" height="0.9" fill="#444" opacity="0.86"/>
<rect x="426.9" y="314.3" width="0.9" height="0.9" fill="#444" opacity="0.68"/>
<rect x="419.1" y="312.9" width="0.9" height="0.9" fill="#444" opacity="0.66"/>
<rect x="408.3" y="317.7" width="0.9" height="0.9" fill="#444" opacity="0.71"/>
<rect x="407.7" y="318.6" width="0.9" height="0.9" fill="#444" opacity="0.63"/>
<rect x="429.5" y="313.6" width="0.9" height="0.9" fill="#444" opacity="0.66"/>
<rect x="411.9" y="315.0" width="0.9" height="0.9" fill="#444" opacity="0.95"/>
<rect x="438.4" y="308.2" width="0.9" height="0.9" fill="#444" opacity="0.82"/>
<rect x="433.8" y="309.0" width="0.9" height="0.9" fill="#444" opacity="0.54"/>
<rect x="414.5" y="315.5" width="0.9" height="0.9" fill="#444" opacity="0.61"/>
<rect x="410.8" y="315.1" width="0.9" height="0.9" fill="#444" opacity="0.54"/>
<rect x="438.3" y="310.4" width="0.9" height="0.9" fill="#444" opacity="0.90"/>
<rect x="425.1" y="315.8" width="0.9" height="0.9" fill="#444" opacity="0.72"/>
<rect x="391.3" y="319.1" width="0.9" height="0.9" fill="#444" opacity="0.86"/>
<rect x="436.5" y="308.1" width="0.9" height="0.9" fill="#444" opacity="0.56"/>
<rect x="405.3" y="315.1" width="0.9" height="0.9" fill="#444" opacity="0.75"/>
<rect x="426.5" y="309.5" width="0.9" height="0.9" fill="#444" opacity="0.91"/>
<rect x="432.3" y="308.7" width="0.9" height="0.9" fill="#444" opacity="0.51"/>
<rect x="432.3" y="308.0" width="0.9" height="0.9" fill="#444" opacity="0.50"/>
<rect x="429.8" y="309.5" width="0.9" height="0.9" fill="#444" opacity="0.91"/>
<rect x="417.2" y="313.7" width="0.9" height="0.9" fill="#444" opacity="0.53"/>
<rect x="430.9" y="311.5" width="0.9" height="0.9" fill="#444" opacity="0.56"/>
<rect x="413.5" y="315.5" width="0.9" height="0.9" fill="#444" opacity="0.90"/>
<rect x="427.5" y="311.6" width="0.9" height="0.9" fill="#444" opacity="0.84"/>
<rect x="391.7" y="316.8" width="0.9" height="0.9" fill="#444" opacity="0.61"/>
<rect x="421.2" y="312.7" width="0.9" height="0.9" fill="#444" opacity="0.92"/>
<rect x="431.7" y="309.2" width="0.9" height="0.9" fill="#444" opacity="0.89"/>
<rect x="414.7" y="316.0" width="0.9" height="0.9" fill="#444" opacity="0.56"/>
<rect x="412.5" y="317.4" width="0.9" height="0.9" fill="#444" opacity="0.94"/>
<rect x="411.8" y="313.0" width="0.9" height="0.9" fill="#444" opacity="0.80"/>
<rect x="432.7" y="311.6" width="0.9" height="0.9" fill="#444" opacity="0.49"/>
<rect x="417.3" y="317.7" width="0.9" height="0.9" fill="#444" opacity="0.82"/>
<rect x="434.4" y="308.8" width="0.9" height="0.9" fill="#444" opacity="0.51"/>
<rect x="410.8" y="316.0" width="0.9" height="0.9" fill="#444" opacity="0.53"/>
<rect x="415.6" y="315.8" width="0.9" height="0.9" fill="#444" opacity="0.93"/>
<rect x="434.5" y="312.5" width="0.9" height="0.9" fill="#444" opacity="0.86"/>
<rect x="439.4" y="308.8" width="0.9" height="0.9" fill="#444" opacity="0.86"/>
<rect x="388.0" y="318.6" width="0.9" height="0.9" fill="#444" opacity="0.88"/>
<rect x="420.6" y="313.3" width="0.9" height="0.9" fill="#444" opacity="0.92"/>
<rect x="438.7" y="310.3" width="0.9" height="0.9" fill="#444" opacity="0.70"/>
<rect x="415.0" y="316.6" width="0.9" height="0.9" fill="#444" opacity="0.79"/>
<rect x="388.6" y="319.5" width="0.9" height="0.9" fill="#444" opacity="0.67"/>
<rect x="420.6" y="311.5" width="0.9" height="0.9" fill="#444" opacity="0.56"/>
<rect x="414.8" y="314.7" width="0.9" height="0.9" fill="#444" opacity="0.60"/>
<rect x="409.3" y="315.1" width="0.9" height="0.9" fill="#444" opacity="0.74"/>
<rect x="411.7" y="318.0" width="0.9" height="0.9" fill="#444" opacity="0.88"/>
<rect x="425.3" y="315.4" width="0.9" height="0.9" fill="#444" opacity="0.83"/>
<rect x="417.8" y="313.0" width="0.9" height="0.9" fill="#444" opacity="0.81"/>
<rect x="436.1" y="308.6" width="0.9" height="0.9" fill="#444" opacity="0.48"/>
<rect x="431.2" y="309.0" width="0.9" height="0.9" fill="#444" opacity="0.54"/>
<rect x="405.2" y="314.5" width="0.9" height="0.9" fill="#444" opacity="0.86"/>
<rect x="430.2" y="309.4" width="0.9" height="0.9" fill="#444" opacity="0.91"/>
<rect x="410.3" y="315.3" width="0.9" height="0.9" fill="#444" opacity="0.59"/>
<rect x="411.4" y="314.5" width="0.9" height="0.9" fill="#444" opacity="0.70"/>
<path d="M364.40 326.00 C364.47 320.83 364.37 309.00 364.40 300.00 C364.43 291.00 364.40 280.00 364.60 272.00 C364.80 264.00 364.87 257.00 365.60 252.00 C366.33 247.00 367.35 244.30 369.00 242.00 C370.65 239.70 373.58 238.45 375.50 238.20 C377.42 237.95 379.08 239.45 380.50 240.50 C381.92 241.55 382.75 243.32 384.00 244.50 C385.25 245.68 385.83 246.98 388.00 247.60 C390.17 248.22 393.33 248.53 397.00 248.20 C400.67 247.87 405.33 246.13 410.00 245.60 C414.67 245.07 420.00 245.07 425.00 245.00 C430.00 244.93 435.92 244.90 440.00 245.20 C444.08 245.50 447.08 245.67 449.50 246.80 C451.92 247.93 453.37 248.80 454.50 252.00 C455.63 255.20 456.13 260.83 456.30 266.00 C456.47 271.17 456.30 277.83 455.50 283.00 C454.70 288.17 453.33 293.08 451.50 297.00 C449.67 300.92 447.42 303.75 444.50 306.50 C441.58 309.25 438.42 311.62 434.00 313.50 C429.58 315.38 423.00 316.75 418.00 317.80 C413.00 318.85 408.00 319.18 404.00 319.80 C400.00 320.42 397.00 320.38 394.00 321.50 C391.00 322.62 388.33 324.50 386.00 326.50 C383.67 328.50 382.17 331.65 380.00 333.50 C377.83 335.35 375.25 337.18 373.00 337.60 C370.75 338.02 368.00 337.10 366.50 336.00 C365.00 334.90 364.35 332.67 364.00 331.00 C363.65 329.33 364.33 331.17 364.40 326.00 Z" fill="none" stroke="#333" stroke-width="0.7"/>
<path d="M385.00 264.00 C385.33 263.10 386.00 259.73 387.00 258.60 C388.00 257.47 389.53 257.27 391.00 257.20 C392.47 257.13 394.67 256.90 395.80 258.20 C396.93 259.50 397.37 262.03 397.80 265.00 C398.23 267.97 397.97 272.17 398.40 276.00 C398.83 279.83 399.83 284.00 400.40 288.00 C400.97 292.00 401.37 296.33 401.80 300.00 C402.23 303.67 402.37 307.00 403.00 310.00 C403.63 313.00 404.60 316.13 405.60 318.00 C406.60 319.87 408.43 320.67 409.00 321.20" fill="none" stroke="#333" stroke-width="0.65"/>
<path d="M394.50 321.20 C393.98 320.33 392.42 318.03 391.40 316.00 C390.38 313.97 389.15 312.00 388.40 309.00 C387.65 306.00 387.23 302.17 386.90 298.00 C386.57 293.83 386.72 289.67 386.40 284.00 C386.08 278.33 385.23 267.33 385.00 264.00" fill="none" stroke="#333" stroke-width="0.65"/>
<path d="M403.00 258.00 C403.83 254.50 404.67 252.53 407.50 251.00 C410.33 249.47 415.08 249.23 420.00 248.80 C424.92 248.37 432.25 248.20 437.00 248.40 C441.75 248.60 445.92 248.73 448.50 250.00 C451.08 251.27 451.67 253.00 452.50 256.00 C453.33 259.00 453.75 263.67 453.50 268.00 C453.25 272.33 452.42 277.67 451.00 282.00 C449.58 286.33 447.58 290.25 445.00 294.00 C442.42 297.75 439.17 301.42 435.50 304.50 C431.83 307.58 427.00 310.28 423.00 312.50 C419.00 314.72 414.42 317.38 411.50 317.80 C408.58 318.22 406.88 316.97 405.50 315.00 C404.12 313.03 403.68 310.17 403.20 306.00 C402.72 301.83 402.72 295.67 402.60 290.00 C402.48 284.33 402.43 277.33 402.50 272.00 C402.57 266.67 402.17 261.50 403.00 258.00 Z" fill="none" stroke="#333" stroke-width="0.72"/>
<path d="M408.30 261.00 C409.05 257.37 409.88 254.70 412.50 253.20 C415.12 251.70 419.75 252.20 424.00 252.00 C428.25 251.80 434.25 251.67 438.00 252.00 C441.75 252.33 444.58 252.50 446.50 254.00 C448.42 255.50 449.00 258.00 449.50 261.00 C450.00 264.00 450.08 268.17 449.50 272.00 C448.92 275.83 447.75 280.33 446.00 284.00 C444.25 287.67 441.83 290.83 439.00 294.00 C436.17 297.17 432.50 300.25 429.00 303.00 C425.50 305.75 420.75 309.08 418.00 310.50 C415.25 311.92 413.92 312.58 412.50 311.50 C411.08 310.42 410.20 307.58 409.50 304.00 C408.80 300.42 408.55 294.83 408.30 290.00 C408.05 285.17 408.00 279.83 408.00 275.00 C408.00 270.17 407.55 264.63 408.30 261.00 Z" fill="none" stroke="#333" stroke-width="0.72"/>
<path d="M415.00 262.00 C415.63 258.33 416.50 257.17 419.00 256.00 C421.50 254.83 426.33 254.97 430.00 255.00 C433.67 255.03 438.33 255.12 441.00 256.20 C443.67 257.28 445.17 258.87 446.00 261.50 C446.83 264.13 446.67 268.58 446.00 272.00 C445.33 275.42 443.83 278.83 442.00 282.00 C440.17 285.17 437.67 288.17 435.00 291.00 C432.33 293.83 428.53 297.25 426.00 299.00 C423.47 300.75 421.37 302.50 419.80 301.50 C418.23 300.50 417.37 296.92 416.60 293.00 C415.83 289.08 415.47 283.17 415.20 278.00 C414.93 272.83 414.37 265.67 415.00 262.00 Z" fill="none" stroke="#333" stroke-width="0.72"/>
<path d="M421.60 266.00 C422.23 263.23 423.37 260.68 425.60 259.40 C427.83 258.12 432.18 258.10 435.00 258.30 C437.82 258.50 441.00 259.07 442.50 260.60 C444.00 262.13 444.25 264.77 444.00 267.50 C443.75 270.23 442.50 274.17 441.00 277.00 C439.50 279.83 437.08 282.60 435.00 284.50 C432.92 286.40 430.33 288.32 428.50 288.40 C426.67 288.48 425.12 287.07 424.00 285.00 C422.88 282.93 422.20 279.17 421.80 276.00 C421.40 272.83 420.97 268.77 421.60 266.00 Z" fill="none" stroke="#333" stroke-width="0.72"/>
<path d="M428.00 268.50 C428.58 266.57 430.00 264.35 431.50 263.40 C433.00 262.45 435.37 262.28 437.00 262.80 C438.63 263.32 440.70 264.88 441.30 266.50 C441.90 268.12 441.40 270.82 440.60 272.50 C439.80 274.18 438.10 275.62 436.50 276.60 C434.90 277.58 432.42 278.67 431.00 278.40 C429.58 278.13 428.50 276.65 428.00 275.00 C427.50 273.35 427.42 270.43 428.00 268.50 Z" fill="none" stroke="#333" stroke-width="0.72"/>
<path d="M365.40 321.00 C365.40 319.17 365.40 315.17 365.40 310.00 C365.40 304.83 365.40 295.83 365.40 290.00 C365.40 284.17 365.38 281.66 365.40 275.00 C365.42 268.34 365.07 255.37 365.55 250.05 C366.03 244.72 366.80 244.70 368.26 243.06 C369.73 241.42 372.32 240.20 374.35 240.20 C376.38 240.20 378.96 241.42 380.44 243.06 C381.91 244.70 382.72 244.72 383.20 250.05 C383.68 255.37 383.23 267.34 383.30 275.00 C383.37 282.66 382.76 290.83 383.60 296.00 C384.44 301.17 387.18 302.83 388.35 306.00 C389.52 309.17 390.55 312.42 390.60 315.00 C390.65 317.58 389.57 319.33 388.64 321.50 C387.71 323.67 386.57 326.21 385.00 328.00 C383.43 329.79 380.17 331.54 379.20 332.25" fill="none" stroke="#4a4a4a" stroke-width="0.6"/>
<path d="M366.40 321.00 C366.40 319.17 366.40 315.17 366.40 310.00 C366.40 304.83 366.40 295.83 366.40 290.00 C366.40 284.17 366.38 281.50 366.40 275.00 C366.42 268.50 366.12 256.04 366.55 251.00 C366.98 245.96 367.65 246.23 368.96 244.76 C370.27 243.29 372.59 242.20 374.40 242.20 C376.21 242.20 378.52 243.29 379.84 244.76 C381.16 246.23 381.87 245.96 382.30 251.00 C382.73 256.04 382.33 267.50 382.40 275.00 C382.47 282.50 381.93 290.83 382.70 296.00 C383.47 301.17 385.97 302.83 387.00 306.00 C388.03 309.17 388.88 312.42 388.90 315.00 C388.92 317.58 387.90 319.33 387.11 321.50 C386.32 323.67 385.47 326.27 384.15 328.00 C382.83 329.73 380.02 331.25 379.20 331.90" fill="none" stroke="#5a5a5a" stroke-width="0.6"/>
<path d="M367.40 321.00 C367.40 319.17 367.40 315.17 367.40 310.00 C367.40 304.83 367.40 295.83 367.40 290.00 C367.40 284.17 367.38 281.34 367.40 275.00 C367.42 268.66 367.17 256.71 367.55 251.96 C367.93 247.20 368.51 247.75 369.66 246.46 C370.81 245.16 372.85 244.20 374.45 244.20 C376.05 244.20 378.09 245.16 379.24 246.46 C380.40 247.75 381.02 247.20 381.40 251.96 C381.78 256.71 381.43 267.66 381.50 275.00 C381.57 282.34 381.11 290.83 381.80 296.00 C382.49 301.17 384.75 302.83 385.65 306.00 C386.55 309.17 387.21 312.42 387.20 315.00 C387.19 317.58 386.23 319.33 385.58 321.50 C384.93 323.67 384.36 326.32 383.30 328.00 C382.24 329.68 379.88 330.96 379.20 331.55" fill="none" stroke="#4a4a4a" stroke-width="0.6"/>
<path d="M368.40 321.00 C368.40 319.17 368.40 315.17 368.40 310.00 C368.40 304.83 368.40 295.83 368.40 290.00 C368.40 284.17 368.38 281.18 368.40 275.00 C368.42 268.82 368.22 257.38 368.55 252.91 C368.88 248.44 369.36 249.27 370.35 248.15 C371.34 247.03 373.12 246.20 374.50 246.20 C375.88 246.20 377.65 247.03 378.65 248.15 C379.65 249.27 380.17 248.44 380.50 252.91 C380.83 257.38 380.53 267.82 380.60 275.00 C380.67 282.18 380.28 290.83 380.90 296.00 C381.52 301.17 383.53 302.83 384.30 306.00 C385.07 309.17 385.54 312.42 385.50 315.00 C385.46 317.58 384.56 319.33 384.05 321.50 C383.54 323.67 383.26 326.38 382.45 328.00 C381.64 329.62 379.74 330.67 379.20 331.20" fill="none" stroke="#5a5a5a" stroke-width="0.6"/>
<path d="M369.40 321.00 C369.40 319.17 369.40 315.17 369.40 310.00 C369.40 304.83 369.40 295.83 369.40 290.00 C369.40 284.17 369.38 281.02 369.40 275.00 C369.42 268.98 369.28 258.06 369.55 253.87 C369.82 249.67 370.21 250.79 371.05 249.85 C371.88 248.90 373.38 248.20 374.55 248.20 C375.72 248.20 377.21 248.90 378.05 249.85 C378.89 250.79 379.33 249.67 379.60 253.87 C379.87 258.06 379.63 267.98 379.70 275.00 C379.77 282.02 379.46 290.83 380.00 296.00 C380.54 301.17 382.32 302.83 382.95 306.00 C383.58 309.17 383.87 312.42 383.80 315.00 C383.73 317.58 382.89 319.33 382.52 321.50 C382.15 323.67 382.15 326.44 381.60 328.00 C381.05 329.56 379.60 330.38 379.20 330.85" fill="none" stroke="#4a4a4a" stroke-width="0.6"/>
<path d="M370.40 321.00 C370.40 319.17 370.40 315.17 370.40 310.00 C370.40 304.83 370.40 295.83 370.40 290.00 C370.40 284.17 370.38 280.86 370.40 275.00 C370.42 269.14 370.33 258.73 370.55 254.82 C370.77 250.91 371.07 252.31 371.74 251.54 C372.42 250.77 373.65 250.20 374.60 250.20 C375.55 250.20 376.77 250.77 377.46 251.54 C378.14 252.31 378.48 250.91 378.70 254.82 C378.92 258.73 378.73 268.14 378.80 275.00 C378.87 281.86 378.63 290.83 379.10 296.00 C379.57 301.17 381.10 302.83 381.60 306.00 C382.10 309.17 382.20 312.42 382.10 315.00 C382.00 317.58 381.22 319.33 380.99 321.50 C380.76 323.67 381.05 326.50 380.75 328.00 C380.45 329.50 379.46 330.08 379.20 330.50" fill="none" stroke="#5a5a5a" stroke-width="0.6"/>
<path d="M371.20 272.00 C371.52 270.18 372.67 269.52 373.50 269.60 C374.33 269.68 375.68 270.77 376.20 272.50 C376.72 274.23 376.93 278.15 376.60 280.00 C376.27 281.85 375.03 283.52 374.20 283.60 C373.37 283.68 372.10 282.43 371.60 280.50 C371.10 278.57 370.88 273.82 371.20 272.00 Z" fill="none" stroke="#444" stroke-width="0.6"/>
<path d="M374.40 268.00 C374.47 266.42 374.43 260.70 374.80 258.50 C375.17 256.30 375.97 254.80 376.60 254.80 C377.23 254.80 378.20 256.30 378.60 258.50 C379.00 260.70 378.93 266.42 379.00 268.00" fill="none" stroke="#555" stroke-width="0.6"/>
<path d="M369.60 320.00 C369.73 318.42 369.78 312.75 370.40 310.50 C371.02 308.25 372.33 306.50 373.30 306.50 C374.27 306.50 375.58 308.25 376.20 310.50 C376.82 312.75 376.87 318.42 377.00 320.00" fill="none" stroke="#444" stroke-width="0.6"/>
<path d="M364.30 306.00 C364.25 308.00 364.05 314.50 364.00 318.00 C363.95 321.50 363.67 324.37 364.00 327.00 C364.33 329.63 364.92 332.05 366.00 333.80 C367.08 335.55 368.90 337.00 370.50 337.50 C372.10 338.00 374.23 337.52 375.60 336.80 C376.97 336.08 378.03 334.17 378.70 333.20 C379.37 332.23 379.45 331.37 379.60 331.00" fill="none" stroke="#151515" stroke-width="1.2"/>
<ellipse cx="371.5" cy="328.4" rx="6.2" ry="7.2" transform="rotate(0 371.5 328.4)" fill="none" stroke="#444" stroke-width="0.6"/>
<ellipse cx="371.5" cy="328.2" rx="5.0" ry="5.8" transform="rotate(0 371.5 328.2)" fill="none" stroke="#555" stroke-width="0.6"/>
<ellipse cx="371.4" cy="328.0" rx="3.9" ry="4.5" transform="rotate(0 371.4 328.0)" fill="none" stroke="#444" stroke-width="0.6"/>
<ellipse cx="371.4" cy="327.8" rx="2.8" ry="3.2" transform="rotate(0 371.4 327.8)" fill="none" stroke="#333" stroke-width="0.65"/>
<ellipse cx="371.4" cy="327.7" rx="1.7" ry="1.9" transform="rotate(0 371.4 327.7)" fill="#888" stroke="#222" stroke-width="0.7"/>
<ellipse cx="371.4" cy="327.7" rx="0.6" ry="0.7" transform="rotate(0 371.4 327.7)" fill="#e5e5e5" stroke="none" stroke-width="0"/>
<line x1="79.5" y1="220.5" x2="79.5" y2="362.5" stroke="#3c3c3c" stroke-width="1"/>
<line x1="31.5" y1="321.4" x2="173.5" y2="321.4" stroke="#444" stroke-width="1.15"/>
<line x1="229.0" y1="220.5" x2="229.0" y2="362.5" stroke="#3a3a3a" stroke-width="1.4"/>
<line x1="180.5" y1="321.4" x2="322.5" y2="321.4" stroke="#444" stroke-width="1.15"/>
<line x1="378.5" y1="220.5" x2="378.5" y2="362.5" stroke="#3c3c3c" stroke-width="1"/>
<line x1="330.5" y1="321.4" x2="472.5" y2="321.4" stroke="#444" stroke-width="1.15"/>
<line x1="22.8" y1="330" x2="22.8" y2="369.5" stroke="#111" stroke-width="1"/>
<line x1="22.3" y1="369.5" x2="64" y2="369.5" stroke="#111" stroke-width="1"/>
<path d="M22.8 325 L19.6 332.5 L22.8 331 L26 332.5 Z" fill="#111"/>
<path d="M70 369.5 L62.5 366.3 L64 369.5 L62.5 372.7 Z" fill="#111"/>
<text x="0" y="0" font-size="10.6" font-weight="bold" fill="#111" transform="translate(26.8,315.5) rotate(-90) scale(0.57,1)" text-anchor="middle">BDK</text>
<text x="0" y="0" font-size="10.1" font-weight="bold" fill="#111" transform="translate(78.9,373.3) scale(0.6,1)" text-anchor="middle">GFP</text>
<defs><pattern id="chk" width="2" height="2" patternUnits="userSpaceOnUse"><rect width="2" height="2" fill="#5f9c4b"/><rect width="1" height="1" fill="#40697c"/><rect x="1" y="1" width="1" height="1" fill="#40697c"/></pattern></defs>
<circle cx="100.9" cy="416.9" r="37.8" fill="#c6c3c9"/>
<path d="M251.7 416.9 L251.70 379.10 A37.8 37.8 0 1 1 216.18 429.83 Z" fill="#c6c3c9"/>
<path d="M251.7 416.9 L216.18 429.83 A37.8 37.8 0 0 1 251.70 379.10 Z" fill="#6aa843"/>
<path d="M402.4 416.9 L402.40 379.10 A37.8 37.8 0 1 1 382.37 448.96 Z" fill="#c6c3c9"/>
<path d="M402.4 416.9 L382.37 448.96 A37.8 37.8 0 0 1 377.60 445.43 Z" fill="#6aa843"/>
<path d="M402.4 416.9 L377.60 445.43 A37.8 37.8 0 0 1 364.88 421.51 Z" fill="#2b487f"/>
<path d="M402.4 416.9 L364.88 421.51 A37.8 37.8 0 0 1 402.40 379.10 Z" fill="url(#chk)"/>
<rect x="300.6" y="384.6" width="8.2" height="4" fill="#c6c3c9"/>
<text x="0" y="0" transform="translate(311.8 389.0) scale(0.95 1)" font-size="7.5" text-anchor="start" font-weight="normal" fill="#111"  stroke="#111" stroke-width="0.15">GFP<tspan font-size="5.2" dy="-2.8">-</tspan><tspan dy="2.8">BDK</tspan><tspan font-size="5.2" dy="-2.8">-</tspan></text>
<rect x="300.6" y="396.0" width="8.2" height="4" fill="#6aa843"/>
<text x="0" y="0" transform="translate(311.8 400.4) scale(0.95 1)" font-size="7.5" text-anchor="start" font-weight="normal" fill="#111"  stroke="#111" stroke-width="0.15">GFP<tspan font-size="5.2" dy="-2.8">+</tspan><tspan dy="2.8">BDK</tspan><tspan font-size="5.2" dy="-2.8">-</tspan></text>
<rect x="300.6" y="407.0" width="8.2" height="4" fill="#2b487f"/>
<text x="0" y="0" transform="translate(311.8 411.4) scale(0.95 1)" font-size="7.5" text-anchor="start" font-weight="normal" fill="#111"  stroke="#111" stroke-width="0.15">GFP<tspan font-size="5.2" dy="-2.8">-</tspan><tspan dy="2.8">BDK</tspan><tspan font-size="5.2" dy="-2.8">+</tspan></text>
<rect x="300.6" y="418.2" width="8.2" height="4" fill="url(#chk)"/>
<text x="0" y="0" transform="translate(311.8 422.59999999999997) scale(0.95 1)" font-size="7.5" text-anchor="start" font-weight="normal" fill="#111"  stroke="#111" stroke-width="0.15">GFP<tspan font-size="5.2" dy="-2.8">+</tspan><tspan dy="2.8">BDK</tspan><tspan font-size="5.2" dy="-2.8">+</tspan></text>
</svg>
</body></html>
